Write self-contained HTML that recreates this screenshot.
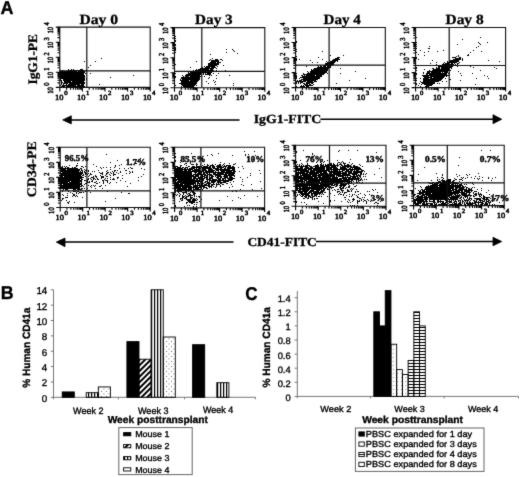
<!DOCTYPE html>
<html><head><meta charset="utf-8"><style>
html,body{margin:0;padding:0;background:#fff;}
svg{display:block;filter:grayscale(1);text-rendering:geometricPrecision;}
.S{font-family:"Liberation Serif", serif;}
.A{font-family:"Liberation Sans", sans-serif;}
text{fill:#000;stroke:#000;stroke-width:0.3px;}
.A{stroke-width:0.34px;}
.T{stroke-width:0.45px;}
.U{stroke-width:0.5px;}
</style></head><body>
<svg width="520" height="477" viewBox="0 0 520 477">
<filter id="bl" color-interpolation-filters="sRGB" filterUnits="userSpaceOnUse" x="0" y="0" width="520" height="477"><feConvolveMatrix order="3" kernelMatrix="0.015 0.075 0.015 0.075 0.64 0.075 0.015 0.075 0.015" edgeMode="duplicate"/></filter>
<g filter="url(#bl)">
<rect width="520" height="477" fill="#fff"/>
<text class="A" font-size="18.5" font-weight="bold" transform="translate(0.52 14.33) scale(0.973 1)">A</text>
<text class="S" font-size="14.0" font-weight="bold" transform="translate(79.38 24.15) scale(1.114 1)">Day 0</text>
<text class="S" font-size="14.0" font-weight="bold" transform="translate(195.08 24.15) scale(1.086 1)">Day 3</text>
<text class="S" font-size="14.0" font-weight="bold" transform="translate(323.49 24.15) scale(1.081 1)">Day 4</text>
<text class="S" font-size="14.0" font-weight="bold" transform="translate(445.48 23.75) scale(1.103 1)">Day 8</text>
<path d="M101 58h1v1h-1zM84 61h1v1h-1zM95 61h1v1h-1zM90 65h1v1h-1zM88 67h1v1h-1zM68 69h1v1h-1zM71 69h1v1h-1zM73 69h1v1h-1zM80 69h3v1h-3zM60 70h1v1h-1zM62 70h1v1h-1zM68 70h16v1h-16zM85 70h1v1h-1zM60 71h17v1h-17zM78 71h7v1h-7zM59 72h26v1h-26zM59 73h25v1h-25zM85 73h1v1h-1zM90 73h1v1h-1zM60 74h24v1h-24zM60 75h25v1h-25zM133 75h1v1h-1zM60 76h25v1h-25zM60 77h25v1h-25zM110 77h1v1h-1zM60 78h25v1h-25zM86 78h1v1h-1zM60 79h1v1h-1zM63 79h22v1h-22zM86 79h1v1h-1zM60 80h2v1h-2zM63 80h22v1h-22zM61 81h1v1h-1zM64 81h7v1h-7zM72 81h12v1h-12zM61 82h2v1h-2zM64 82h21v1h-21zM61 83h1v1h-1zM63 83h5v1h-5zM69 83h16v1h-16zM61 84h1v1h-1zM63 84h1v1h-1zM66 84h1v1h-1zM68 84h12v1h-12zM81 84h3v1h-3zM99 84h1v1h-1zM60 85h1v1h-1zM62 85h14v1h-14zM77 85h7v1h-7zM61 86h4v1h-4zM66 86h19v1h-19z" fill="#000"/>
<path d="M59.8 27.1H150.2V87.4H59.8Z" fill="none" stroke="#111" stroke-width="1.1"/>
<line x1="86.8" y1="27.1" x2="86.8" y2="87.4" stroke="#111" stroke-width="1.2"/>
<line x1="59.8" y1="70.8" x2="150.2" y2="70.8" stroke="#111" stroke-width="1.2"/>
<path d="M59.8 87.4v4.0M59.8 87.4h-4.0M66.6 87.4v2.3M59.8 82.9h-2.3M70.6 87.4v2.3M59.8 80.2h-2.3M73.4 87.4v2.3M59.8 78.3h-2.3M75.6 87.4v2.3M59.8 76.9h-2.3M77.4 87.4v2.3M59.8 75.7h-2.3M78.9 87.4v2.3M59.8 74.7h-2.3M80.2 87.4v2.3M59.8 73.8h-2.3M81.4 87.4v2.3M59.8 73.0h-2.3M82.4 87.4v4.0M59.8 72.3h-4.0M89.2 87.4v2.3M59.8 67.8h-2.3M93.2 87.4v2.3M59.8 65.1h-2.3M96.0 87.4v2.3M59.8 63.2h-2.3M98.2 87.4v2.3M59.8 61.8h-2.3M100.0 87.4v2.3M59.8 60.6h-2.3M101.5 87.4v2.3M59.8 59.6h-2.3M102.8 87.4v2.3M59.8 58.7h-2.3M104.0 87.4v2.3M59.8 57.9h-2.3M105.0 87.4v4.0M59.8 57.2h-4.0M111.8 87.4v2.3M59.8 52.7h-2.3M115.8 87.4v2.3M59.8 50.1h-2.3M118.6 87.4v2.3M59.8 48.2h-2.3M120.8 87.4v2.3M59.8 46.7h-2.3M122.6 87.4v2.3M59.8 45.5h-2.3M124.1 87.4v2.3M59.8 44.5h-2.3M125.4 87.4v2.3M59.8 43.6h-2.3M126.6 87.4v2.3M59.8 42.9h-2.3M127.6 87.4v4.0M59.8 42.2h-4.0M134.4 87.4v2.3M59.8 37.6h-2.3M138.4 87.4v2.3M59.8 35.0h-2.3M141.2 87.4v2.3M59.8 33.1h-2.3M143.4 87.4v2.3M59.8 31.6h-2.3M145.2 87.4v2.3M59.8 30.4h-2.3M146.7 87.4v2.3M59.8 29.4h-2.3M148.0 87.4v2.3M59.8 28.6h-2.3M149.2 87.4v2.3M59.8 27.8h-2.3M150.2 87.4v4M59.8 27.1h-4" stroke="#000" stroke-width="1.1" fill="none"/>
<text class="S U" font-size="7.8" transform="translate(55.1 100.0) scale(1.08 1)">10<tspan dx="0.6" dy="-5.2" font-size="6.3">0</tspan></text>
<text class="S U" font-size="7.8" transform="translate(77.0 100.0) scale(1.08 1)">10<tspan dx="0.6" dy="-5.2" font-size="6.3">1</tspan></text>
<text class="S U" font-size="7.8" transform="translate(99.0 100.0) scale(1.08 1)">10<tspan dx="0.6" dy="-5.2" font-size="6.3">2</tspan></text>
<text class="S U" font-size="7.8" transform="translate(120.9 100.0) scale(1.08 1)">10<tspan dx="0.6" dy="-5.2" font-size="6.3">3</tspan></text>
<text class="S U" font-size="7.8" transform="translate(142.9 100.0) scale(1.08 1)">10<tspan dx="0.6" dy="-5.2" font-size="6.3">4</tspan></text>
<text class="S U" font-size="8" transform="translate(53.1 93.8) rotate(-90) scale(0.84 1)">10<tspan dx="1.6" dy="-4.2" font-size="7.6">0</tspan></text>
<text class="S U" font-size="8" transform="translate(53.1 78.7) rotate(-90) scale(0.84 1)">10<tspan dx="1.6" dy="-4.2" font-size="7.6">1</tspan></text>
<text class="S U" font-size="8" transform="translate(53.1 63.6) rotate(-90) scale(0.84 1)">10<tspan dx="1.6" dy="-4.2" font-size="7.6">2</tspan></text>
<text class="S U" font-size="8" transform="translate(53.1 48.6) rotate(-90) scale(0.84 1)">10<tspan dx="1.6" dy="-4.2" font-size="7.6">3</tspan></text>
<text class="S U" font-size="8" transform="translate(53.1 33.5) rotate(-90) scale(0.84 1)">10<tspan dx="1.6" dy="-4.2" font-size="7.6">4</tspan></text>
<path d="M174 35h1v1h-1zM175 36h1v1h-1zM174 37h1v1h-1zM175 38h1v1h-1zM175 40h1v1h-1zM174 41h2v1h-2zM174 42h1v1h-1zM174 44h2v1h-2zM175 45h1v1h-1zM174 46h1v1h-1zM174 47h2v1h-2zM175 48h1v1h-1zM174 49h2v1h-2zM226 49h1v1h-1zM232 49h1v1h-1zM175 50h1v1h-1zM233 50h1v1h-1zM174 51h1v1h-1zM234 51h1v1h-1zM175 52h1v1h-1zM226 52h1v1h-1zM237 53h1v1h-1zM210 54h1v1h-1zM212 58h1v1h-1zM210 59h1v1h-1zM215 59h3v1h-3zM220 59h2v1h-2zM209 60h1v1h-1zM211 60h8v1h-8zM222 60h1v1h-1zM196 61h1v1h-1zM211 61h8v1h-8zM174 62h1v1h-1zM210 62h6v1h-6zM217 62h4v1h-4zM208 63h11v1h-11zM175 64h1v1h-1zM208 64h11v1h-11zM208 65h9v1h-9zM223 65h1v1h-1zM204 66h1v1h-1zM206 66h9v1h-9zM217 66h1v1h-1zM190 67h1v1h-1zM202 67h1v1h-1zM205 67h5v1h-5zM211 67h5v1h-5zM174 68h1v1h-1zM200 68h14v1h-14zM216 68h1v1h-1zM196 69h1v1h-1zM198 69h11v1h-11zM210 69h3v1h-3zM193 70h1v1h-1zM195 70h19v1h-19zM216 70h1v1h-1zM225 70h1v1h-1zM175 71h1v1h-1zM189 71h1v1h-1zM191 71h21v1h-21zM216 71h1v1h-1zM174 72h1v1h-1zM188 72h1v1h-1zM190 72h22v1h-22zM175 73h1v1h-1zM188 73h14v1h-14zM203 73h1v1h-1zM205 73h1v1h-1zM207 73h4v1h-4zM213 73h1v1h-1zM218 73h1v1h-1zM186 74h15v1h-15zM203 74h1v1h-1zM205 74h6v1h-6zM182 75h1v1h-1zM185 75h15v1h-15zM201 75h1v1h-1zM209 75h1v1h-1zM211 75h1v1h-1zM216 75h1v1h-1zM229 75h1v1h-1zM175 76h1v1h-1zM183 76h1v1h-1zM185 76h4v1h-4zM190 76h11v1h-11zM204 76h1v1h-1zM175 77h1v1h-1zM181 77h19v1h-19zM209 77h1v1h-1zM181 78h19v1h-19zM208 78h1v1h-1zM216 78h1v1h-1zM174 79h1v1h-1zM180 79h1v1h-1zM182 79h18v1h-18zM180 80h9v1h-9zM190 80h9v1h-9zM213 80h1v1h-1zM174 81h1v1h-1zM181 81h17v1h-17zM206 81h1v1h-1zM215 81h1v1h-1zM181 82h16v1h-16zM214 82h1v1h-1zM174 83h1v1h-1zM179 83h18v1h-18zM208 83h1v1h-1zM233 83h1v1h-1zM174 84h1v1h-1zM181 84h15v1h-15zM215 84h1v1h-1zM175 85h1v1h-1zM182 85h13v1h-13zM196 85h1v1h-1zM233 85h1v1h-1zM181 86h1v1h-1zM183 86h11v1h-11zM182 87h1v1h-1zM184 87h11v1h-11z" fill="#000"/>
<path d="M174.5 27.6H264.8V87.8H174.5Z" fill="none" stroke="#111" stroke-width="1.1"/>
<line x1="201.8" y1="27.6" x2="201.8" y2="87.8" stroke="#111" stroke-width="1.2"/>
<line x1="174.5" y1="71.4" x2="264.8" y2="71.4" stroke="#111" stroke-width="1.2"/>
<path d="M174.5 87.8v4.0M174.5 87.8h-4.0M181.3 87.8v2.3M174.5 83.3h-2.3M185.3 87.8v2.3M174.5 80.6h-2.3M188.1 87.8v2.3M174.5 78.7h-2.3M190.3 87.8v2.3M174.5 77.3h-2.3M192.1 87.8v2.3M174.5 76.1h-2.3M193.6 87.8v2.3M174.5 75.1h-2.3M194.9 87.8v2.3M174.5 74.2h-2.3M196.0 87.8v2.3M174.5 73.4h-2.3M197.1 87.8v4.0M174.5 72.8h-4.0M203.9 87.8v2.3M174.5 68.2h-2.3M207.8 87.8v2.3M174.5 65.6h-2.3M210.7 87.8v2.3M174.5 63.7h-2.3M212.9 87.8v2.3M174.5 62.2h-2.3M214.6 87.8v2.3M174.5 61.0h-2.3M216.2 87.8v2.3M174.5 60.0h-2.3M217.5 87.8v2.3M174.5 59.2h-2.3M218.6 87.8v2.3M174.5 58.4h-2.3M219.7 87.8v4.0M174.5 57.7h-4.0M226.4 87.8v2.3M174.5 53.2h-2.3M230.4 87.8v2.3M174.5 50.5h-2.3M233.2 87.8v2.3M174.5 48.6h-2.3M235.4 87.8v2.3M174.5 47.2h-2.3M237.2 87.8v2.3M174.5 46.0h-2.3M238.7 87.8v2.3M174.5 45.0h-2.3M240.0 87.8v2.3M174.5 44.1h-2.3M241.2 87.8v2.3M174.5 43.3h-2.3M242.2 87.8v4.0M174.5 42.6h-4.0M249.0 87.8v2.3M174.5 38.1h-2.3M253.0 87.8v2.3M174.5 35.5h-2.3M255.8 87.8v2.3M174.5 33.6h-2.3M258.0 87.8v2.3M174.5 32.1h-2.3M259.8 87.8v2.3M174.5 30.9h-2.3M261.3 87.8v2.3M174.5 29.9h-2.3M262.6 87.8v2.3M174.5 29.1h-2.3M263.8 87.8v2.3M174.5 28.3h-2.3M264.8 87.8v4M174.5 27.6h-4" stroke="#000" stroke-width="1.1" fill="none"/>
<text class="S U" font-size="7.8" transform="translate(169.8 100.4) scale(1.08 1)">10<tspan dx="0.6" dy="-5.2" font-size="6.3">0</tspan></text>
<text class="S U" font-size="7.8" transform="translate(191.8 100.4) scale(1.08 1)">10<tspan dx="0.6" dy="-5.2" font-size="6.3">1</tspan></text>
<text class="S U" font-size="7.8" transform="translate(213.7 100.4) scale(1.08 1)">10<tspan dx="0.6" dy="-5.2" font-size="6.3">2</tspan></text>
<text class="S U" font-size="7.8" transform="translate(235.7 100.4) scale(1.08 1)">10<tspan dx="0.6" dy="-5.2" font-size="6.3">3</tspan></text>
<text class="S U" font-size="7.8" transform="translate(257.6 100.4) scale(1.08 1)">10<tspan dx="0.6" dy="-5.2" font-size="6.3">4</tspan></text>
<text class="S U" font-size="8" transform="translate(167.8 94.2) rotate(-90) scale(0.84 1)">10<tspan dx="1.6" dy="-4.2" font-size="7.6">0</tspan></text>
<text class="S U" font-size="8" transform="translate(167.8 79.2) rotate(-90) scale(0.84 1)">10<tspan dx="1.6" dy="-4.2" font-size="7.6">1</tspan></text>
<text class="S U" font-size="8" transform="translate(167.8 64.1) rotate(-90) scale(0.84 1)">10<tspan dx="1.6" dy="-4.2" font-size="7.6">2</tspan></text>
<text class="S U" font-size="8" transform="translate(167.8 49.0) rotate(-90) scale(0.84 1)">10<tspan dx="1.6" dy="-4.2" font-size="7.6">3</tspan></text>
<text class="S U" font-size="8" transform="translate(167.8 34.0) rotate(-90) scale(0.84 1)">10<tspan dx="1.6" dy="-4.2" font-size="7.6">4</tspan></text>
<path d="M296 41h1v1h-1zM296 42h1v1h-1zM296 49h1v1h-1zM296 51h1v1h-1zM322 51h1v1h-1zM330 55h1v1h-1zM343 55h1v1h-1zM296 56h1v1h-1zM318 57h1v1h-1zM337 57h3v1h-3zM296 58h1v1h-1zM335 58h4v1h-4zM296 59h1v1h-1zM299 59h1v1h-1zM322 59h1v1h-1zM333 59h7v1h-7zM296 60h1v1h-1zM310 60h1v1h-1zM329 60h1v1h-1zM332 60h6v1h-6zM326 61h1v1h-1zM330 61h6v1h-6zM337 61h1v1h-1zM312 62h1v1h-1zM317 62h1v1h-1zM327 62h8v1h-8zM325 63h9v1h-9zM325 64h9v1h-9zM296 65h1v1h-1zM317 65h1v1h-1zM320 65h1v1h-1zM323 65h9v1h-9zM306 66h1v1h-1zM318 66h1v1h-1zM320 66h2v1h-2zM323 66h3v1h-3zM327 66h4v1h-4zM317 67h14v1h-14zM314 68h15v1h-15zM340 68h1v1h-1zM311 69h1v1h-1zM313 69h15v1h-15zM311 70h17v1h-17zM307 71h1v1h-1zM310 71h17v1h-17zM355 71h1v1h-1zM308 72h1v1h-1zM310 72h17v1h-17zM296 73h1v1h-1zM303 73h1v1h-1zM307 73h18v1h-18zM327 73h1v1h-1zM340 73h1v1h-1zM303 74h21v1h-21zM296 75h1v1h-1zM301 75h2v1h-2zM304 75h1v1h-1zM306 75h9v1h-9zM316 75h6v1h-6zM296 76h1v1h-1zM302 76h20v1h-20zM296 77h1v1h-1zM300 77h20v1h-20zM296 78h1v1h-1zM299 78h1v1h-1zM303 78h17v1h-17zM365 78h1v1h-1zM301 79h17v1h-17zM297 80h1v1h-1zM299 80h3v1h-3zM303 80h13v1h-13zM349 80h1v1h-1zM296 81h10v1h-10zM307 81h6v1h-6zM314 81h3v1h-3zM296 82h1v1h-1zM298 82h1v1h-1zM300 82h3v1h-3zM306 82h8v1h-8zM296 83h1v1h-1zM298 83h1v1h-1zM300 83h1v1h-1zM303 83h2v1h-2zM306 83h4v1h-4zM311 83h2v1h-2zM336 83h1v1h-1zM304 84h4v1h-4zM309 84h2v1h-2zM313 84h1v1h-1zM301 85h1v1h-1zM303 85h1v1h-1zM305 85h8v1h-8zM296 86h1v1h-1zM300 86h5v1h-5zM306 86h3v1h-3zM296 87h1v1h-1zM301 87h1v1h-1zM306 87h1v1h-1z" fill="#000"/>
<path d="M295.6 27.5H385.3V87.6H295.6Z" fill="none" stroke="#111" stroke-width="1.1"/>
<line x1="329.1" y1="27.5" x2="329.1" y2="87.6" stroke="#111" stroke-width="1.2"/>
<line x1="295.6" y1="65.2" x2="385.3" y2="65.2" stroke="#111" stroke-width="1.2"/>
<path d="M295.6 87.6v4.0M295.6 87.6h-4.0M302.4 87.6v2.3M295.6 83.1h-2.3M306.3 87.6v2.3M295.6 80.4h-2.3M309.1 87.6v2.3M295.6 78.6h-2.3M311.3 87.6v2.3M295.6 77.1h-2.3M313.1 87.6v2.3M295.6 75.9h-2.3M314.6 87.6v2.3M295.6 74.9h-2.3M315.9 87.6v2.3M295.6 74.0h-2.3M317.0 87.6v2.3M295.6 73.3h-2.3M318.0 87.6v4.0M295.6 72.6h-4.0M324.8 87.6v2.3M295.6 68.1h-2.3M328.7 87.6v2.3M295.6 65.4h-2.3M331.5 87.6v2.3M295.6 63.5h-2.3M333.7 87.6v2.3M295.6 62.1h-2.3M335.5 87.6v2.3M295.6 60.9h-2.3M337.0 87.6v2.3M295.6 59.9h-2.3M338.3 87.6v2.3M295.6 59.0h-2.3M339.4 87.6v2.3M295.6 58.2h-2.3M340.5 87.6v4.0M295.6 57.5h-4.0M347.2 87.6v2.3M295.6 53.0h-2.3M351.1 87.6v2.3M295.6 50.4h-2.3M354.0 87.6v2.3M295.6 48.5h-2.3M356.1 87.6v2.3M295.6 47.0h-2.3M357.9 87.6v2.3M295.6 45.9h-2.3M359.4 87.6v2.3M295.6 44.9h-2.3M360.7 87.6v2.3M295.6 44.0h-2.3M361.8 87.6v2.3M295.6 43.2h-2.3M362.9 87.6v4.0M295.6 42.5h-4.0M369.6 87.6v2.3M295.6 38.0h-2.3M373.6 87.6v2.3M295.6 35.4h-2.3M376.4 87.6v2.3M295.6 33.5h-2.3M378.5 87.6v2.3M295.6 32.0h-2.3M380.3 87.6v2.3M295.6 30.8h-2.3M381.8 87.6v2.3M295.6 29.8h-2.3M383.1 87.6v2.3M295.6 29.0h-2.3M384.3 87.6v2.3M295.6 28.2h-2.3M385.3 87.6v4M295.6 27.5h-4" stroke="#000" stroke-width="1.1" fill="none"/>
<text class="S U" font-size="7.8" transform="translate(290.9 100.2) scale(1.08 1)">10<tspan dx="0.6" dy="-5.2" font-size="6.3">0</tspan></text>
<text class="S U" font-size="7.8" transform="translate(312.9 100.2) scale(1.08 1)">10<tspan dx="0.6" dy="-5.2" font-size="6.3">1</tspan></text>
<text class="S U" font-size="7.8" transform="translate(334.8 100.2) scale(1.08 1)">10<tspan dx="0.6" dy="-5.2" font-size="6.3">2</tspan></text>
<text class="S U" font-size="7.8" transform="translate(356.8 100.2) scale(1.08 1)">10<tspan dx="0.6" dy="-5.2" font-size="6.3">3</tspan></text>
<text class="S U" font-size="7.8" transform="translate(378.7 100.2) scale(1.08 1)">10<tspan dx="0.6" dy="-5.2" font-size="6.3">4</tspan></text>
<text class="S U" font-size="8" transform="translate(288.9 94.0) rotate(-90) scale(0.84 1)">10<tspan dx="1.6" dy="-4.2" font-size="7.6">0</tspan></text>
<text class="S U" font-size="8" transform="translate(288.9 79.0) rotate(-90) scale(0.84 1)">10<tspan dx="1.6" dy="-4.2" font-size="7.6">1</tspan></text>
<text class="S U" font-size="8" transform="translate(288.9 63.9) rotate(-90) scale(0.84 1)">10<tspan dx="1.6" dy="-4.2" font-size="7.6">2</tspan></text>
<text class="S U" font-size="8" transform="translate(288.9 48.9) rotate(-90) scale(0.84 1)">10<tspan dx="1.6" dy="-4.2" font-size="7.6">3</tspan></text>
<text class="S U" font-size="8" transform="translate(288.9 33.9) rotate(-90) scale(0.84 1)">10<tspan dx="1.6" dy="-4.2" font-size="7.6">4</tspan></text>
<path d="M416 37h1v1h-1zM480 37h1v1h-1zM462 39h1v1h-1zM416 42h1v1h-1zM478 42h1v1h-1zM487 42h1v1h-1zM479 43h1v1h-1zM416 44h1v1h-1zM457 44h1v1h-1zM480 44h1v1h-1zM416 46h1v1h-1zM429 46h1v1h-1zM478 46h1v1h-1zM476 47h1v1h-1zM416 48h1v1h-1zM428 48h2v1h-2zM420 50h1v1h-1zM443 50h1v1h-1zM473 50h1v1h-1zM428 51h1v1h-1zM437 51h1v1h-1zM481 51h1v1h-1zM416 52h1v1h-1zM424 52h1v1h-1zM470 52h1v1h-1zM418 54h1v1h-1zM468 54h1v1h-1zM424 55h1v1h-1zM458 55h1v1h-1zM467 55h2v1h-2zM456 56h1v1h-1zM458 56h1v1h-1zM416 57h1v1h-1zM452 57h4v1h-4zM459 57h2v1h-2zM416 58h1v1h-1zM455 58h6v1h-6zM462 58h1v1h-1zM418 59h1v1h-1zM453 59h8v1h-8zM462 59h1v1h-1zM432 60h1v1h-1zM450 60h9v1h-9zM462 60h1v1h-1zM488 60h1v1h-1zM447 61h1v1h-1zM449 61h10v1h-10zM499 61h1v1h-1zM436 62h1v1h-1zM444 62h1v1h-1zM447 62h10v1h-10zM459 62h1v1h-1zM430 63h1v1h-1zM443 63h1v1h-1zM445 63h5v1h-5zM451 63h2v1h-2zM454 63h1v1h-1zM457 63h2v1h-2zM436 64h1v1h-1zM442 64h12v1h-12zM455 64h1v1h-1zM457 64h1v1h-1zM416 65h1v1h-1zM442 65h11v1h-11zM438 66h15v1h-15zM457 66h1v1h-1zM470 66h1v1h-1zM416 67h1v1h-1zM436 67h1v1h-1zM438 67h2v1h-2zM441 67h11v1h-11zM473 67h1v1h-1zM494 67h1v1h-1zM416 68h1v1h-1zM432 68h2v1h-2zM436 68h4v1h-4zM441 68h9v1h-9zM451 68h1v1h-1zM496 68h1v1h-1zM424 69h1v1h-1zM433 69h17v1h-17zM416 70h1v1h-1zM429 70h1v1h-1zM432 70h19v1h-19zM480 70h1v1h-1zM427 71h21v1h-21zM458 71h1v1h-1zM423 72h1v1h-1zM427 72h3v1h-3zM431 72h10v1h-10zM442 72h1v1h-1zM444 72h4v1h-4zM449 72h1v1h-1zM416 73h1v1h-1zM423 73h1v1h-1zM426 73h21v1h-21zM448 73h1v1h-1zM460 73h1v1h-1zM472 73h1v1h-1zM416 74h1v1h-1zM426 74h2v1h-2zM429 74h18v1h-18zM449 74h1v1h-1zM422 75h27v1h-27zM461 75h1v1h-1zM484 75h1v1h-1zM415 76h1v1h-1zM423 76h6v1h-6zM430 76h15v1h-15zM446 76h1v1h-1zM487 76h1v1h-1zM424 77h8v1h-8zM433 77h11v1h-11zM416 78h1v1h-1zM420 78h1v1h-1zM423 78h6v1h-6zM430 78h13v1h-13zM445 78h1v1h-1zM476 78h1v1h-1zM488 78h1v1h-1zM423 79h19v1h-19zM449 79h2v1h-2zM416 80h1v1h-1zM423 80h18v1h-18zM460 80h1v1h-1zM420 81h1v1h-1zM423 81h16v1h-16zM442 81h1v1h-1zM446 81h1v1h-1zM421 82h14v1h-14zM416 83h1v1h-1zM419 83h1v1h-1zM422 83h13v1h-13zM437 83h1v1h-1zM439 83h1v1h-1zM416 84h1v1h-1zM421 84h1v1h-1zM424 84h9v1h-9zM475 84h1v1h-1zM418 85h1v1h-1zM426 85h6v1h-6zM420 86h1v1h-1zM425 86h4v1h-4zM416 87h1v1h-1zM425 87h1v1h-1zM429 87h1v1h-1zM454 87h1v1h-1z" fill="#000"/>
<path d="M415.6 27.5H505.6V87.6H415.6Z" fill="none" stroke="#111" stroke-width="1.1"/>
<line x1="449.2" y1="27.5" x2="449.2" y2="87.6" stroke="#111" stroke-width="1.2"/>
<line x1="415.6" y1="65.5" x2="505.6" y2="65.5" stroke="#111" stroke-width="1.2"/>
<path d="M415.6 87.6v4.0M415.6 87.6h-4.0M422.4 87.6v2.3M415.6 83.1h-2.3M426.3 87.6v2.3M415.6 80.4h-2.3M429.1 87.6v2.3M415.6 78.6h-2.3M431.3 87.6v2.3M415.6 77.1h-2.3M433.1 87.6v2.3M415.6 75.9h-2.3M434.6 87.6v2.3M415.6 74.9h-2.3M435.9 87.6v2.3M415.6 74.0h-2.3M437.1 87.6v2.3M415.6 73.3h-2.3M438.1 87.6v4.0M415.6 72.6h-4.0M444.9 87.6v2.3M415.6 68.1h-2.3M448.8 87.6v2.3M415.6 65.4h-2.3M451.6 87.6v2.3M415.6 63.5h-2.3M453.8 87.6v2.3M415.6 62.1h-2.3M455.6 87.6v2.3M415.6 60.9h-2.3M457.1 87.6v2.3M415.6 59.9h-2.3M458.4 87.6v2.3M415.6 59.0h-2.3M459.6 87.6v2.3M415.6 58.2h-2.3M460.6 87.6v4.0M415.6 57.5h-4.0M467.4 87.6v2.3M415.6 53.0h-2.3M471.3 87.6v2.3M415.6 50.4h-2.3M474.1 87.6v2.3M415.6 48.5h-2.3M476.3 87.6v2.3M415.6 47.0h-2.3M478.1 87.6v2.3M415.6 45.9h-2.3M479.6 87.6v2.3M415.6 44.9h-2.3M480.9 87.6v2.3M415.6 44.0h-2.3M482.1 87.6v2.3M415.6 43.2h-2.3M483.1 87.6v4.0M415.6 42.5h-4.0M489.9 87.6v2.3M415.6 38.0h-2.3M493.8 87.6v2.3M415.6 35.4h-2.3M496.6 87.6v2.3M415.6 33.5h-2.3M498.8 87.6v2.3M415.6 32.0h-2.3M500.6 87.6v2.3M415.6 30.8h-2.3M502.1 87.6v2.3M415.6 29.8h-2.3M503.4 87.6v2.3M415.6 29.0h-2.3M504.6 87.6v2.3M415.6 28.2h-2.3M505.6 87.6v4M415.6 27.5h-4" stroke="#000" stroke-width="1.1" fill="none"/>
<text class="S U" font-size="7.8" transform="translate(410.9 100.2) scale(1.08 1)">10<tspan dx="0.6" dy="-5.2" font-size="6.3">0</tspan></text>
<text class="S U" font-size="7.8" transform="translate(432.9 100.2) scale(1.08 1)">10<tspan dx="0.6" dy="-5.2" font-size="6.3">1</tspan></text>
<text class="S U" font-size="7.8" transform="translate(454.8 100.2) scale(1.08 1)">10<tspan dx="0.6" dy="-5.2" font-size="6.3">2</tspan></text>
<text class="S U" font-size="7.8" transform="translate(476.8 100.2) scale(1.08 1)">10<tspan dx="0.6" dy="-5.2" font-size="6.3">3</tspan></text>
<text class="S U" font-size="7.8" transform="translate(498.7 100.2) scale(1.08 1)">10<tspan dx="0.6" dy="-5.2" font-size="6.3">4</tspan></text>
<text class="S U" font-size="8" transform="translate(408.9 94.0) rotate(-90) scale(0.84 1)">10<tspan dx="1.6" dy="-4.2" font-size="7.6">0</tspan></text>
<text class="S U" font-size="8" transform="translate(408.9 79.0) rotate(-90) scale(0.84 1)">10<tspan dx="1.6" dy="-4.2" font-size="7.6">1</tspan></text>
<text class="S U" font-size="8" transform="translate(408.9 63.9) rotate(-90) scale(0.84 1)">10<tspan dx="1.6" dy="-4.2" font-size="7.6">2</tspan></text>
<text class="S U" font-size="8" transform="translate(408.9 48.9) rotate(-90) scale(0.84 1)">10<tspan dx="1.6" dy="-4.2" font-size="7.6">3</tspan></text>
<text class="S U" font-size="8" transform="translate(408.9 33.9) rotate(-90) scale(0.84 1)">10<tspan dx="1.6" dy="-4.2" font-size="7.6">4</tspan></text>
<path d="M71.3 115.8L62.7 119.9L71.3 123.9Z M493 114.7L501.7 119.2L493 123.7Z" fill="#000" stroke="#000" stroke-width="0.8"/>
<path d="M70 119.9H239.6 M320.4 119.3H494" stroke="#000" stroke-width="1.5"/>
<text class="S" font-size="12.4" font-weight="bold" transform="translate(253.70 123.25) scale(1.115 1)">IgG1-FITC</text>
<text class="S" font-size="13.0" font-weight="bold" transform="translate(36.65 84.48) rotate(-90) scale(1.025 1)">IgG1-PE</text>
<path d="M86 154h1v1h-1zM106 154h1v1h-1zM84 158h2v1h-2zM140 158h1v1h-1zM117 160h1v1h-1zM137 161h1v1h-1zM110 162h1v1h-1zM77 163h1v1h-1zM135 163h2v1h-2zM93 164h1v1h-1zM121 164h1v1h-1zM130 164h1v1h-1zM69 165h1v1h-1zM76 165h2v1h-2zM115 165h1v1h-1zM119 165h1v1h-1zM60 166h1v1h-1zM62 166h1v1h-1zM64 166h1v1h-1zM66 166h1v1h-1zM76 166h1v1h-1zM81 166h2v1h-2zM85 166h1v1h-1zM96 166h1v1h-1zM115 166h1v1h-1zM60 167h3v1h-3zM65 167h1v1h-1zM67 167h2v1h-2zM72 167h1v1h-1zM74 167h2v1h-2zM83 167h1v1h-1zM100 167h1v1h-1zM103 167h1v1h-1zM106 167h1v1h-1zM110 167h1v1h-1zM114 167h1v1h-1zM130 167h1v1h-1zM59 168h19v1h-19zM80 168h2v1h-2zM101 168h1v1h-1zM119 168h1v1h-1zM124 168h1v1h-1zM128 168h1v1h-1zM131 168h2v1h-2zM141 168h1v1h-1zM60 169h6v1h-6zM67 169h13v1h-13zM81 169h1v1h-1zM84 169h1v1h-1zM86 169h1v1h-1zM110 169h1v1h-1zM144 169h1v1h-1zM60 170h20v1h-20zM81 170h2v1h-2zM85 170h2v1h-2zM88 170h1v1h-1zM98 170h1v1h-1zM107 170h1v1h-1zM114 170h2v1h-2zM117 170h1v1h-1zM125 170h2v1h-2zM60 171h19v1h-19zM80 171h1v1h-1zM82 171h1v1h-1zM84 171h1v1h-1zM86 171h1v1h-1zM88 171h1v1h-1zM92 171h1v1h-1zM94 171h1v1h-1zM106 171h1v1h-1zM112 171h1v1h-1zM114 171h1v1h-1zM120 171h1v1h-1zM129 171h1v1h-1zM132 171h1v1h-1zM60 172h1v1h-1zM62 172h21v1h-21zM84 172h2v1h-2zM99 172h1v1h-1zM102 172h1v1h-1zM107 172h2v1h-2zM110 172h1v1h-1zM113 172h1v1h-1zM116 172h1v1h-1zM120 172h1v1h-1zM130 172h1v1h-1zM132 172h1v1h-1zM60 173h23v1h-23zM85 173h2v1h-2zM88 173h1v1h-1zM90 173h1v1h-1zM100 173h3v1h-3zM106 173h2v1h-2zM111 173h1v1h-1zM113 173h1v1h-1zM118 173h1v1h-1zM126 173h1v1h-1zM129 173h1v1h-1zM60 174h22v1h-22zM83 174h1v1h-1zM85 174h1v1h-1zM87 174h1v1h-1zM90 174h2v1h-2zM102 174h1v1h-1zM106 174h1v1h-1zM109 174h1v1h-1zM113 174h3v1h-3zM143 174h1v1h-1zM59 175h22v1h-22zM82 175h2v1h-2zM89 175h1v1h-1zM95 175h1v1h-1zM100 175h1v1h-1zM105 175h1v1h-1zM110 175h1v1h-1zM113 175h1v1h-1zM122 175h1v1h-1zM60 176h3v1h-3zM64 176h18v1h-18zM85 176h1v1h-1zM88 176h1v1h-1zM93 176h1v1h-1zM95 176h2v1h-2zM101 176h3v1h-3zM106 176h2v1h-2zM141 176h1v1h-1zM60 177h24v1h-24zM91 177h3v1h-3zM96 177h1v1h-1zM101 177h3v1h-3zM110 177h1v1h-1zM117 177h2v1h-2zM138 177h1v1h-1zM60 178h22v1h-22zM88 178h1v1h-1zM90 178h1v1h-1zM93 178h2v1h-2zM97 178h1v1h-1zM101 178h1v1h-1zM105 178h1v1h-1zM107 178h1v1h-1zM113 178h1v1h-1zM117 178h1v1h-1zM122 178h1v1h-1zM59 179h21v1h-21zM81 179h2v1h-2zM87 179h2v1h-2zM91 179h1v1h-1zM93 179h1v1h-1zM95 179h1v1h-1zM97 179h2v1h-2zM104 179h1v1h-1zM110 179h1v1h-1zM112 179h3v1h-3zM60 180h22v1h-22zM84 180h2v1h-2zM87 180h1v1h-1zM92 180h1v1h-1zM102 180h2v1h-2zM105 180h3v1h-3zM120 180h1v1h-1zM138 180h1v1h-1zM60 181h10v1h-10zM71 181h11v1h-11zM86 181h2v1h-2zM89 181h1v1h-1zM91 181h2v1h-2zM96 181h1v1h-1zM103 181h1v1h-1zM107 181h1v1h-1zM125 181h1v1h-1zM60 182h8v1h-8zM69 182h11v1h-11zM81 182h1v1h-1zM87 182h3v1h-3zM94 182h2v1h-2zM99 182h1v1h-1zM103 182h1v1h-1zM107 182h1v1h-1zM110 182h1v1h-1zM116 182h1v1h-1zM60 183h22v1h-22zM85 183h2v1h-2zM96 183h2v1h-2zM103 183h1v1h-1zM109 183h1v1h-1zM130 183h1v1h-1zM60 184h2v1h-2zM63 184h19v1h-19zM84 184h1v1h-1zM59 185h21v1h-21zM81 185h2v1h-2zM88 185h1v1h-1zM91 185h1v1h-1zM93 185h1v1h-1zM95 185h1v1h-1zM101 185h1v1h-1zM105 185h1v1h-1zM60 186h22v1h-22zM83 186h1v1h-1zM90 186h1v1h-1zM94 186h1v1h-1zM99 186h2v1h-2zM127 186h1v1h-1zM59 187h21v1h-21zM91 187h1v1h-1zM59 188h21v1h-21zM81 188h2v1h-2zM84 188h1v1h-1zM87 188h1v1h-1zM95 188h1v1h-1zM102 188h1v1h-1zM63 189h1v1h-1zM65 189h3v1h-3zM73 189h3v1h-3zM77 189h5v1h-5zM60 190h1v1h-1zM62 190h1v1h-1zM68 190h1v1h-1zM73 190h1v1h-1zM76 190h1v1h-1zM82 190h1v1h-1zM88 190h2v1h-2zM62 191h1v1h-1zM68 191h1v1h-1zM73 191h3v1h-3zM77 191h2v1h-2zM85 191h1v1h-1zM107 191h1v1h-1zM70 192h1v1h-1zM76 192h1v1h-1zM79 192h3v1h-3zM83 192h1v1h-1zM90 192h1v1h-1zM121 192h1v1h-1zM67 193h1v1h-1zM72 193h1v1h-1zM76 193h1v1h-1zM78 193h1v1h-1zM128 193h2v1h-2zM62 194h1v1h-1zM73 194h2v1h-2zM63 195h1v1h-1zM67 195h1v1h-1zM73 195h2v1h-2zM76 195h1v1h-1zM72 196h1v1h-1zM75 196h1v1h-1zM77 196h1v1h-1zM65 197h3v1h-3zM82 197h1v1h-1zM62 198h2v1h-2zM115 198h1v1h-1zM62 199h1v1h-1zM61 200h1v1h-1zM66 200h1v1h-1zM69 201h1v1h-1zM105 201h1v1h-1zM67 202h2v1h-2zM74 202h1v1h-1zM68 203h1v1h-1z" fill="#000"/>
<path d="M60.2 147.3H150.2V207.5H60.2Z" fill="none" stroke="#111" stroke-width="1.1"/>
<line x1="86.9" y1="147.3" x2="86.9" y2="207.5" stroke="#111" stroke-width="1.2"/>
<line x1="60.2" y1="190.9" x2="150.2" y2="190.9" stroke="#111" stroke-width="1.2"/>
<path d="M60.2 207.5v4.0M60.2 207.5h-4.0M67.0 207.5v2.3M60.2 203.0h-2.3M70.9 207.5v2.3M60.2 200.3h-2.3M73.7 207.5v2.3M60.2 198.4h-2.3M75.9 207.5v2.3M60.2 197.0h-2.3M77.7 207.5v2.3M60.2 195.8h-2.3M79.2 207.5v2.3M60.2 194.8h-2.3M80.5 207.5v2.3M60.2 193.9h-2.3M81.7 207.5v2.3M60.2 193.1h-2.3M82.7 207.5v4.0M60.2 192.4h-4.0M89.5 207.5v2.3M60.2 187.9h-2.3M93.4 207.5v2.3M60.2 185.3h-2.3M96.2 207.5v2.3M60.2 183.4h-2.3M98.4 207.5v2.3M60.2 181.9h-2.3M100.2 207.5v2.3M60.2 180.7h-2.3M101.7 207.5v2.3M60.2 179.7h-2.3M103.0 207.5v2.3M60.2 178.9h-2.3M104.2 207.5v2.3M60.2 178.1h-2.3M105.2 207.5v4.0M60.2 177.4h-4.0M112.0 207.5v2.3M60.2 172.9h-2.3M115.9 207.5v2.3M60.2 170.2h-2.3M118.7 207.5v2.3M60.2 168.3h-2.3M120.9 207.5v2.3M60.2 166.9h-2.3M122.7 207.5v2.3M60.2 165.7h-2.3M124.2 207.5v2.3M60.2 164.7h-2.3M125.5 207.5v2.3M60.2 163.8h-2.3M126.7 207.5v2.3M60.2 163.0h-2.3M127.7 207.5v4.0M60.2 162.4h-4.0M134.5 207.5v2.3M60.2 157.8h-2.3M138.4 207.5v2.3M60.2 155.2h-2.3M141.2 207.5v2.3M60.2 153.3h-2.3M143.4 207.5v2.3M60.2 151.8h-2.3M145.2 207.5v2.3M60.2 150.6h-2.3M146.7 207.5v2.3M60.2 149.6h-2.3M148.0 207.5v2.3M60.2 148.8h-2.3M149.2 207.5v2.3M60.2 148.0h-2.3M150.2 207.5v4M60.2 147.3h-4" stroke="#000" stroke-width="1.1" fill="none"/>
<text class="S U" font-size="7.8" transform="translate(55.5 220.1) scale(1.08 1)">10<tspan dx="0.6" dy="-5.2" font-size="6.3">0</tspan></text>
<text class="S U" font-size="7.8" transform="translate(77.5 220.1) scale(1.08 1)">10<tspan dx="0.6" dy="-5.2" font-size="6.3">1</tspan></text>
<text class="S U" font-size="7.8" transform="translate(99.4 220.1) scale(1.08 1)">10<tspan dx="0.6" dy="-5.2" font-size="6.3">2</tspan></text>
<text class="S U" font-size="7.8" transform="translate(121.3 220.1) scale(1.08 1)">10<tspan dx="0.6" dy="-5.2" font-size="6.3">3</tspan></text>
<text class="S U" font-size="7.8" transform="translate(143.3 220.1) scale(1.08 1)">10<tspan dx="0.6" dy="-5.2" font-size="6.3">4</tspan></text>
<text class="S U" font-size="8" transform="translate(53.5 213.9) rotate(-90) scale(0.84 1)">10<tspan dx="1.6" dy="-4.2" font-size="7.6">0</tspan></text>
<text class="S U" font-size="8" transform="translate(53.5 198.8) rotate(-90) scale(0.84 1)">10<tspan dx="1.6" dy="-4.2" font-size="7.6">1</tspan></text>
<text class="S U" font-size="8" transform="translate(53.5 183.8) rotate(-90) scale(0.84 1)">10<tspan dx="1.6" dy="-4.2" font-size="7.6">2</tspan></text>
<text class="S U" font-size="8" transform="translate(53.5 168.8) rotate(-90) scale(0.84 1)">10<tspan dx="1.6" dy="-4.2" font-size="7.6">3</tspan></text>
<text class="S U" font-size="8" transform="translate(53.5 153.7) rotate(-90) scale(0.84 1)">10<tspan dx="1.6" dy="-4.2" font-size="7.6">4</tspan></text>
<path d="M244 151h1v1h-1zM254 151h1v1h-1zM175 153h1v1h-1zM191 153h1v1h-1zM218 153h1v1h-1zM211 154h1v1h-1zM245 154h1v1h-1zM248 154h1v1h-1zM207 155h1v1h-1zM212 155h1v1h-1zM232 155h1v1h-1zM245 155h1v1h-1zM255 155h1v1h-1zM175 156h1v1h-1zM175 157h1v1h-1zM188 157h1v1h-1zM200 157h1v1h-1zM186 158h1v1h-1zM198 158h1v1h-1zM202 158h1v1h-1zM253 159h1v1h-1zM175 160h1v1h-1zM180 160h1v1h-1zM202 160h1v1h-1zM175 161h1v1h-1zM183 161h1v1h-1zM187 161h1v1h-1zM203 161h1v1h-1zM252 161h1v1h-1zM180 162h1v1h-1zM190 162h1v1h-1zM220 162h1v1h-1zM185 163h2v1h-2zM190 163h1v1h-1zM196 163h1v1h-1zM224 163h1v1h-1zM229 163h1v1h-1zM235 163h1v1h-1zM184 164h1v1h-1zM191 164h3v1h-3zM196 164h2v1h-2zM200 164h1v1h-1zM204 164h1v1h-1zM207 164h1v1h-1zM212 164h1v1h-1zM215 164h1v1h-1zM219 164h2v1h-2zM223 164h1v1h-1zM233 164h2v1h-2zM180 165h2v1h-2zM186 165h1v1h-1zM196 165h1v1h-1zM202 165h1v1h-1zM207 165h2v1h-2zM210 165h4v1h-4zM217 165h4v1h-4zM222 165h1v1h-1zM224 165h1v1h-1zM226 165h5v1h-5zM175 166h3v1h-3zM180 166h1v1h-1zM188 166h2v1h-2zM192 166h3v1h-3zM196 166h6v1h-6zM203 166h5v1h-5zM209 166h2v1h-2zM212 166h3v1h-3zM216 166h6v1h-6zM223 166h4v1h-4zM228 166h3v1h-3zM232 166h2v1h-2zM242 166h1v1h-1zM174 167h2v1h-2zM177 167h4v1h-4zM182 167h2v1h-2zM185 167h3v1h-3zM191 167h9v1h-9zM201 167h10v1h-10zM212 167h3v1h-3zM217 167h7v1h-7zM225 167h1v1h-1zM227 167h8v1h-8zM238 167h1v1h-1zM175 168h8v1h-8zM184 168h2v1h-2zM187 168h1v1h-1zM189 168h6v1h-6zM196 168h1v1h-1zM198 168h3v1h-3zM202 168h10v1h-10zM213 168h6v1h-6zM220 168h2v1h-2zM224 168h2v1h-2zM227 168h8v1h-8zM243 168h1v1h-1zM174 169h19v1h-19zM194 169h6v1h-6zM202 169h4v1h-4zM208 169h5v1h-5zM215 169h15v1h-15zM232 169h3v1h-3zM175 170h8v1h-8zM184 170h3v1h-3zM188 170h3v1h-3zM192 170h9v1h-9zM202 170h5v1h-5zM208 170h7v1h-7zM216 170h3v1h-3zM220 170h15v1h-15zM259 170h1v1h-1zM174 171h30v1h-30zM205 171h9v1h-9zM215 171h1v1h-1zM218 171h1v1h-1zM221 171h4v1h-4zM226 171h6v1h-6zM233 171h3v1h-3zM239 171h1v1h-1zM175 172h17v1h-17zM194 172h3v1h-3zM198 172h4v1h-4zM203 172h32v1h-32zM175 173h17v1h-17zM195 173h1v1h-1zM197 173h5v1h-5zM203 173h2v1h-2zM206 173h2v1h-2zM209 173h1v1h-1zM213 173h3v1h-3zM217 173h7v1h-7zM225 173h10v1h-10zM250 173h1v1h-1zM260 173h1v1h-1zM175 174h17v1h-17zM193 174h13v1h-13zM207 174h5v1h-5zM213 174h14v1h-14zM228 174h6v1h-6zM264 174h1v1h-1zM174 175h20v1h-20zM195 175h4v1h-4zM201 175h2v1h-2zM204 175h4v1h-4zM209 175h4v1h-4zM215 175h6v1h-6zM224 175h11v1h-11zM250 175h1v1h-1zM175 176h24v1h-24zM200 176h5v1h-5zM206 176h2v1h-2zM209 176h1v1h-1zM211 176h3v1h-3zM215 176h1v1h-1zM217 176h5v1h-5zM223 176h5v1h-5zM229 176h3v1h-3zM234 176h1v1h-1zM175 177h17v1h-17zM193 177h3v1h-3zM198 177h5v1h-5zM204 177h4v1h-4zM209 177h4v1h-4zM216 177h3v1h-3zM220 177h2v1h-2zM224 177h4v1h-4zM229 177h4v1h-4zM240 177h1v1h-1zM247 177h1v1h-1zM175 178h1v1h-1zM177 178h15v1h-15zM193 178h12v1h-12zM206 178h2v1h-2zM209 178h4v1h-4zM217 178h4v1h-4zM222 178h4v1h-4zM227 178h8v1h-8zM175 179h20v1h-20zM196 179h2v1h-2zM199 179h5v1h-5zM206 179h5v1h-5zM212 179h5v1h-5zM218 179h3v1h-3zM222 179h2v1h-2zM225 179h1v1h-1zM228 179h5v1h-5zM242 179h1v1h-1zM175 180h2v1h-2zM178 180h22v1h-22zM201 180h3v1h-3zM207 180h1v1h-1zM209 180h23v1h-23zM174 181h2v1h-2zM177 181h26v1h-26zM205 181h3v1h-3zM209 181h1v1h-1zM211 181h5v1h-5zM217 181h4v1h-4zM223 181h6v1h-6zM233 181h1v1h-1zM242 181h1v1h-1zM260 181h1v1h-1zM175 182h21v1h-21zM197 182h2v1h-2zM200 182h3v1h-3zM204 182h2v1h-2zM207 182h3v1h-3zM211 182h4v1h-4zM217 182h9v1h-9zM230 182h1v1h-1zM175 183h4v1h-4zM180 183h16v1h-16zM197 183h3v1h-3zM201 183h3v1h-3zM206 183h5v1h-5zM213 183h1v1h-1zM216 183h1v1h-1zM218 183h1v1h-1zM220 183h2v1h-2zM226 183h2v1h-2zM175 184h8v1h-8zM184 184h10v1h-10zM195 184h1v1h-1zM197 184h1v1h-1zM199 184h1v1h-1zM201 184h2v1h-2zM204 184h3v1h-3zM208 184h2v1h-2zM211 184h4v1h-4zM216 184h4v1h-4zM222 184h2v1h-2zM231 184h1v1h-1zM241 184h1v1h-1zM251 184h1v1h-1zM175 185h16v1h-16zM193 185h17v1h-17zM211 185h2v1h-2zM216 185h1v1h-1zM220 185h1v1h-1zM243 185h1v1h-1zM175 186h17v1h-17zM193 186h5v1h-5zM199 186h6v1h-6zM208 186h4v1h-4zM213 186h1v1h-1zM216 186h1v1h-1zM220 186h1v1h-1zM232 186h1v1h-1zM175 187h6v1h-6zM182 187h20v1h-20zM203 187h4v1h-4zM209 187h1v1h-1zM211 187h1v1h-1zM215 187h1v1h-1zM229 187h1v1h-1zM174 188h13v1h-13zM188 188h4v1h-4zM193 188h1v1h-1zM195 188h4v1h-4zM201 188h1v1h-1zM203 188h1v1h-1zM206 188h2v1h-2zM261 188h1v1h-1zM175 189h1v1h-1zM177 189h15v1h-15zM193 189h8v1h-8zM202 189h1v1h-1zM240 189h1v1h-1zM252 189h1v1h-1zM175 190h19v1h-19zM197 190h1v1h-1zM235 190h1v1h-1zM175 191h1v1h-1zM177 191h5v1h-5zM185 191h2v1h-2zM188 191h1v1h-1zM191 191h3v1h-3zM232 191h1v1h-1zM236 191h1v1h-1zM175 192h1v1h-1zM178 192h1v1h-1zM182 192h5v1h-5zM190 192h1v1h-1zM192 192h3v1h-3zM179 193h1v1h-1zM183 193h1v1h-1zM186 193h1v1h-1zM188 193h2v1h-2zM193 193h3v1h-3zM175 194h1v1h-1zM177 194h1v1h-1zM180 194h1v1h-1zM183 194h1v1h-1zM187 194h1v1h-1zM189 194h2v1h-2zM193 194h2v1h-2zM176 195h1v1h-1zM179 195h1v1h-1zM182 195h1v1h-1zM185 195h1v1h-1zM188 195h5v1h-5zM194 195h1v1h-1zM244 195h1v1h-1zM179 196h1v1h-1zM182 196h3v1h-3zM186 196h3v1h-3zM190 196h1v1h-1zM194 196h1v1h-1zM196 196h1v1h-1zM198 196h2v1h-2zM227 196h1v1h-1zM257 196h1v1h-1zM182 197h2v1h-2zM185 197h2v1h-2zM190 197h3v1h-3zM199 197h1v1h-1zM238 197h1v1h-1zM180 198h3v1h-3zM184 198h3v1h-3zM190 198h2v1h-2zM193 198h2v1h-2zM196 198h1v1h-1zM240 198h1v1h-1zM180 199h1v1h-1zM182 199h1v1h-1zM186 199h5v1h-5zM192 199h4v1h-4zM197 199h1v1h-1zM201 199h1v1h-1zM181 200h2v1h-2zM187 200h4v1h-4zM192 200h5v1h-5zM219 200h1v1h-1zM232 200h1v1h-1zM179 201h1v1h-1zM188 201h7v1h-7zM199 201h1v1h-1zM186 202h2v1h-2zM189 202h6v1h-6zM196 202h2v1h-2zM186 203h1v1h-1zM191 203h2v1h-2zM194 204h1v1h-1zM196 204h1v1h-1zM175 205h1v1h-1zM187 205h1v1h-1zM189 205h1v1h-1zM175 206h1v1h-1zM184 206h1v1h-1zM193 206h1v1h-1zM196 206h1v1h-1zM193 207h1v1h-1z" fill="#000"/>
<path d="M174.6 147.2H264.6V207.9H174.6Z" fill="none" stroke="#111" stroke-width="1.1"/>
<line x1="200.9" y1="147.2" x2="200.9" y2="207.9" stroke="#111" stroke-width="1.2"/>
<line x1="174.6" y1="190.8" x2="264.6" y2="190.8" stroke="#111" stroke-width="1.2"/>
<path d="M174.6 207.9v4.0M174.6 207.9h-4.0M181.4 207.9v2.3M174.6 203.3h-2.3M185.3 207.9v2.3M174.6 200.7h-2.3M188.1 207.9v2.3M174.6 198.8h-2.3M190.3 207.9v2.3M174.6 197.3h-2.3M192.1 207.9v2.3M174.6 196.1h-2.3M193.6 207.9v2.3M174.6 195.1h-2.3M194.9 207.9v2.3M174.6 194.2h-2.3M196.1 207.9v2.3M174.6 193.4h-2.3M197.1 207.9v4.0M174.6 192.7h-4.0M203.9 207.9v2.3M174.6 188.2h-2.3M207.8 207.9v2.3M174.6 185.5h-2.3M210.6 207.9v2.3M174.6 183.6h-2.3M212.8 207.9v2.3M174.6 182.1h-2.3M214.6 207.9v2.3M174.6 180.9h-2.3M216.1 207.9v2.3M174.6 179.9h-2.3M217.4 207.9v2.3M174.6 179.0h-2.3M218.6 207.9v2.3M174.6 178.2h-2.3M219.6 207.9v4.0M174.6 177.6h-4.0M226.4 207.9v2.3M174.6 173.0h-2.3M230.3 207.9v2.3M174.6 170.3h-2.3M233.1 207.9v2.3M174.6 168.4h-2.3M235.3 207.9v2.3M174.6 166.9h-2.3M237.1 207.9v2.3M174.6 165.7h-2.3M238.6 207.9v2.3M174.6 164.7h-2.3M239.9 207.9v2.3M174.6 163.8h-2.3M241.1 207.9v2.3M174.6 163.1h-2.3M242.1 207.9v4.0M174.6 162.4h-4.0M248.9 207.9v2.3M174.6 157.8h-2.3M252.8 207.9v2.3M174.6 155.1h-2.3M255.6 207.9v2.3M174.6 153.2h-2.3M257.8 207.9v2.3M174.6 151.8h-2.3M259.6 207.9v2.3M174.6 150.6h-2.3M261.1 207.9v2.3M174.6 149.6h-2.3M262.4 207.9v2.3M174.6 148.7h-2.3M263.6 207.9v2.3M174.6 147.9h-2.3M264.6 207.9v4M174.6 147.2h-4" stroke="#000" stroke-width="1.1" fill="none"/>
<text class="S U" font-size="7.8" transform="translate(169.9 220.5) scale(1.08 1)">10<tspan dx="0.6" dy="-5.2" font-size="6.3">0</tspan></text>
<text class="S U" font-size="7.8" transform="translate(191.8 220.5) scale(1.08 1)">10<tspan dx="0.6" dy="-5.2" font-size="6.3">1</tspan></text>
<text class="S U" font-size="7.8" transform="translate(213.8 220.5) scale(1.08 1)">10<tspan dx="0.6" dy="-5.2" font-size="6.3">2</tspan></text>
<text class="S U" font-size="7.8" transform="translate(235.8 220.5) scale(1.08 1)">10<tspan dx="0.6" dy="-5.2" font-size="6.3">3</tspan></text>
<text class="S U" font-size="7.8" transform="translate(257.7 220.5) scale(1.08 1)">10<tspan dx="0.6" dy="-5.2" font-size="6.3">4</tspan></text>
<text class="S U" font-size="8" transform="translate(167.9 214.3) rotate(-90) scale(0.84 1)">10<tspan dx="1.6" dy="-4.2" font-size="7.6">0</tspan></text>
<text class="S U" font-size="8" transform="translate(167.9 199.1) rotate(-90) scale(0.84 1)">10<tspan dx="1.6" dy="-4.2" font-size="7.6">1</tspan></text>
<text class="S U" font-size="8" transform="translate(167.9 184.0) rotate(-90) scale(0.84 1)">10<tspan dx="1.6" dy="-4.2" font-size="7.6">2</tspan></text>
<text class="S U" font-size="8" transform="translate(167.9 168.8) rotate(-90) scale(0.84 1)">10<tspan dx="1.6" dy="-4.2" font-size="7.6">3</tspan></text>
<text class="S U" font-size="8" transform="translate(167.9 153.6) rotate(-90) scale(0.84 1)">10<tspan dx="1.6" dy="-4.2" font-size="7.6">4</tspan></text>
<path d="M303 150h1v1h-1zM339 150h1v1h-1zM348 150h1v1h-1zM357 150h1v1h-1zM296 151h1v1h-1zM338 151h1v1h-1zM296 152h1v1h-1zM376 152h1v1h-1zM312 153h1v1h-1zM312 154h1v1h-1zM314 155h1v1h-1zM312 157h1v1h-1zM350 159h1v1h-1zM300 160h1v1h-1zM327 160h1v1h-1zM337 160h1v1h-1zM296 161h1v1h-1zM312 161h1v1h-1zM324 161h1v1h-1zM342 161h1v1h-1zM295 162h2v1h-2zM316 162h1v1h-1zM320 162h1v1h-1zM323 162h1v1h-1zM338 162h2v1h-2zM341 162h1v1h-1zM343 162h1v1h-1zM349 162h1v1h-1zM301 163h1v1h-1zM307 163h1v1h-1zM321 163h1v1h-1zM330 163h2v1h-2zM333 163h1v1h-1zM337 163h1v1h-1zM340 163h1v1h-1zM343 163h3v1h-3zM352 163h1v1h-1zM295 164h1v1h-1zM297 164h1v1h-1zM299 164h1v1h-1zM302 164h1v1h-1zM307 164h1v1h-1zM317 164h1v1h-1zM320 164h2v1h-2zM323 164h1v1h-1zM325 164h1v1h-1zM327 164h2v1h-2zM330 164h2v1h-2zM333 164h2v1h-2zM337 164h1v1h-1zM339 164h3v1h-3zM344 164h1v1h-1zM347 164h2v1h-2zM351 164h1v1h-1zM359 164h1v1h-1zM296 165h1v1h-1zM299 165h1v1h-1zM301 165h1v1h-1zM303 165h1v1h-1zM305 165h5v1h-5zM315 165h4v1h-4zM320 165h4v1h-4zM325 165h4v1h-4zM330 165h9v1h-9zM341 165h2v1h-2zM344 165h7v1h-7zM353 165h2v1h-2zM360 165h1v1h-1zM295 166h13v1h-13zM309 166h3v1h-3zM313 166h6v1h-6zM320 166h10v1h-10zM331 166h5v1h-5zM337 166h1v1h-1zM340 166h1v1h-1zM342 166h10v1h-10zM353 166h5v1h-5zM362 166h1v1h-1zM295 167h3v1h-3zM300 167h3v1h-3zM305 167h4v1h-4zM310 167h3v1h-3zM315 167h10v1h-10zM326 167h11v1h-11zM340 167h6v1h-6zM347 167h2v1h-2zM350 167h10v1h-10zM296 168h7v1h-7zM304 168h21v1h-21zM326 168h6v1h-6zM333 168h5v1h-5zM340 168h7v1h-7zM349 168h2v1h-2zM352 168h1v1h-1zM354 168h7v1h-7zM379 168h1v1h-1zM296 169h11v1h-11zM308 169h4v1h-4zM313 169h12v1h-12zM326 169h36v1h-36zM296 170h13v1h-13zM310 170h19v1h-19zM331 170h1v1h-1zM333 170h5v1h-5zM339 170h1v1h-1zM342 170h3v1h-3zM346 170h3v1h-3zM350 170h3v1h-3zM354 170h1v1h-1zM356 170h3v1h-3zM361 170h3v1h-3zM296 171h1v1h-1zM298 171h1v1h-1zM300 171h9v1h-9zM310 171h5v1h-5zM316 171h11v1h-11zM328 171h15v1h-15zM345 171h7v1h-7zM353 171h10v1h-10zM364 171h1v1h-1zM296 172h9v1h-9zM306 172h16v1h-16zM323 172h4v1h-4zM329 172h12v1h-12zM342 172h5v1h-5zM348 172h4v1h-4zM353 172h9v1h-9zM295 173h13v1h-13zM309 173h10v1h-10zM320 173h8v1h-8zM329 173h3v1h-3zM333 173h14v1h-14zM348 173h10v1h-10zM360 173h2v1h-2zM363 173h1v1h-1zM366 173h1v1h-1zM295 174h4v1h-4zM300 174h1v1h-1zM302 174h15v1h-15zM318 174h23v1h-23zM342 174h8v1h-8zM352 174h5v1h-5zM358 174h1v1h-1zM360 174h2v1h-2zM363 174h1v1h-1zM365 174h1v1h-1zM374 174h1v1h-1zM296 175h3v1h-3zM300 175h11v1h-11zM312 175h23v1h-23zM336 175h15v1h-15zM353 175h2v1h-2zM356 175h5v1h-5zM296 176h6v1h-6zM303 176h14v1h-14zM318 176h3v1h-3zM322 176h13v1h-13zM336 176h1v1h-1zM338 176h6v1h-6zM345 176h1v1h-1zM347 176h1v1h-1zM350 176h8v1h-8zM359 176h2v1h-2zM363 176h1v1h-1zM365 176h1v1h-1zM296 177h17v1h-17zM314 177h17v1h-17zM332 177h6v1h-6zM342 177h9v1h-9zM352 177h4v1h-4zM357 177h2v1h-2zM360 177h1v1h-1zM381 177h1v1h-1zM296 178h22v1h-22zM319 178h19v1h-19zM339 178h8v1h-8zM348 178h12v1h-12zM361 178h1v1h-1zM295 179h4v1h-4zM300 179h42v1h-42zM343 179h16v1h-16zM360 179h2v1h-2zM364 179h1v1h-1zM366 179h1v1h-1zM295 180h8v1h-8zM304 180h3v1h-3zM308 180h42v1h-42zM351 180h2v1h-2zM356 180h1v1h-1zM358 180h3v1h-3zM362 180h1v1h-1zM296 181h9v1h-9zM306 181h14v1h-14zM321 181h31v1h-31zM353 181h1v1h-1zM356 181h1v1h-1zM358 181h1v1h-1zM296 182h3v1h-3zM301 182h2v1h-2zM304 182h1v1h-1zM306 182h37v1h-37zM344 182h1v1h-1zM347 182h3v1h-3zM351 182h1v1h-1zM356 182h2v1h-2zM359 182h1v1h-1zM362 182h1v1h-1zM296 183h1v1h-1zM298 183h7v1h-7zM306 183h28v1h-28zM336 183h3v1h-3zM340 183h4v1h-4zM345 183h7v1h-7zM361 183h1v1h-1zM296 184h23v1h-23zM320 184h13v1h-13zM334 184h4v1h-4zM340 184h7v1h-7zM348 184h1v1h-1zM353 184h1v1h-1zM295 185h35v1h-35zM331 185h4v1h-4zM336 185h2v1h-2zM339 185h7v1h-7zM349 185h1v1h-1zM356 185h1v1h-1zM295 186h13v1h-13zM309 186h1v1h-1zM311 186h20v1h-20zM335 186h2v1h-2zM340 186h2v1h-2zM343 186h2v1h-2zM348 186h2v1h-2zM354 186h2v1h-2zM295 187h3v1h-3zM299 187h2v1h-2zM302 187h22v1h-22zM325 187h2v1h-2zM328 187h6v1h-6zM339 187h2v1h-2zM342 187h2v1h-2zM346 187h1v1h-1zM348 187h2v1h-2zM295 188h31v1h-31zM327 188h1v1h-1zM331 188h1v1h-1zM340 188h4v1h-4zM345 188h1v1h-1zM351 188h1v1h-1zM353 188h1v1h-1zM296 189h2v1h-2zM299 189h11v1h-11zM311 189h11v1h-11zM323 189h2v1h-2zM327 189h2v1h-2zM334 189h1v1h-1zM337 189h2v1h-2zM340 189h2v1h-2zM347 189h1v1h-1zM350 189h1v1h-1zM352 189h1v1h-1zM356 189h1v1h-1zM372 189h1v1h-1zM375 189h1v1h-1zM296 190h5v1h-5zM302 190h7v1h-7zM310 190h4v1h-4zM316 190h4v1h-4zM321 190h4v1h-4zM332 190h1v1h-1zM335 190h1v1h-1zM341 190h3v1h-3zM347 190h2v1h-2zM351 190h1v1h-1zM373 190h1v1h-1zM298 191h10v1h-10zM309 191h10v1h-10zM320 191h4v1h-4zM337 191h3v1h-3zM342 191h1v1h-1zM347 191h3v1h-3zM351 191h1v1h-1zM355 191h1v1h-1zM357 191h2v1h-2zM367 191h1v1h-1zM369 191h1v1h-1zM296 192h1v1h-1zM298 192h5v1h-5zM304 192h3v1h-3zM308 192h4v1h-4zM313 192h10v1h-10zM324 192h2v1h-2zM337 192h1v1h-1zM340 192h1v1h-1zM342 192h1v1h-1zM344 192h3v1h-3zM355 192h1v1h-1zM377 192h1v1h-1zM300 193h10v1h-10zM311 193h10v1h-10zM322 193h1v1h-1zM330 193h1v1h-1zM339 193h1v1h-1zM344 193h1v1h-1zM360 193h1v1h-1zM295 194h1v1h-1zM297 194h1v1h-1zM299 194h1v1h-1zM301 194h8v1h-8zM311 194h2v1h-2zM314 194h4v1h-4zM319 194h1v1h-1zM321 194h1v1h-1zM323 194h1v1h-1zM338 194h1v1h-1zM340 194h2v1h-2zM343 194h1v1h-1zM349 194h1v1h-1zM352 194h1v1h-1zM354 194h1v1h-1zM358 194h1v1h-1zM364 194h1v1h-1zM369 194h1v1h-1zM297 195h1v1h-1zM300 195h1v1h-1zM302 195h2v1h-2zM305 195h5v1h-5zM311 195h2v1h-2zM314 195h3v1h-3zM334 195h1v1h-1zM343 195h1v1h-1zM346 195h1v1h-1zM352 195h1v1h-1zM356 195h1v1h-1zM365 195h1v1h-1zM296 196h1v1h-1zM301 196h2v1h-2zM304 196h3v1h-3zM308 196h3v1h-3zM312 196h3v1h-3zM316 196h1v1h-1zM318 196h2v1h-2zM321 196h1v1h-1zM327 196h1v1h-1zM349 196h1v1h-1zM351 196h1v1h-1zM357 196h1v1h-1zM305 197h2v1h-2zM308 197h1v1h-1zM310 197h3v1h-3zM344 197h2v1h-2zM357 197h2v1h-2zM362 197h1v1h-1zM364 197h1v1h-1zM303 198h2v1h-2zM307 198h2v1h-2zM312 198h1v1h-1zM314 198h1v1h-1zM316 198h2v1h-2zM353 198h1v1h-1zM359 198h2v1h-2zM312 199h1v1h-1zM314 199h1v1h-1zM345 199h1v1h-1zM348 199h1v1h-1zM352 199h3v1h-3zM361 199h1v1h-1zM363 199h1v1h-1zM367 199h1v1h-1zM374 199h2v1h-2zM330 200h1v1h-1zM334 200h1v1h-1zM349 200h1v1h-1zM353 200h1v1h-1zM357 200h1v1h-1zM359 200h1v1h-1zM361 200h1v1h-1zM364 200h2v1h-2zM368 200h1v1h-1zM296 201h1v1h-1zM318 201h1v1h-1zM330 201h1v1h-1zM341 201h1v1h-1zM347 201h1v1h-1zM352 201h1v1h-1zM357 201h3v1h-3zM363 201h1v1h-1zM366 201h1v1h-1zM370 201h1v1h-1zM380 201h1v1h-1zM296 202h1v1h-1zM301 202h1v1h-1zM304 202h1v1h-1zM348 202h1v1h-1zM350 202h1v1h-1zM357 202h1v1h-1zM366 202h1v1h-1zM375 202h2v1h-2zM323 203h1v1h-1zM357 203h1v1h-1zM366 203h1v1h-1zM374 203h1v1h-1zM377 203h2v1h-2zM306 204h1v1h-1zM350 205h1v1h-1zM352 205h1v1h-1zM354 205h1v1h-1zM357 205h1v1h-1zM377 205h1v1h-1z" fill="#000"/>
<path d="M295.6 145.2H386V206.2H295.6Z" fill="none" stroke="#111" stroke-width="1.1"/>
<line x1="329.5" y1="145.2" x2="329.5" y2="206.2" stroke="#111" stroke-width="1.2"/>
<line x1="295.6" y1="183.2" x2="386" y2="183.2" stroke="#111" stroke-width="1.2"/>
<path d="M295.6 206.2v4.0M295.6 206.2h-4.0M302.4 206.2v2.3M295.6 201.6h-2.3M306.4 206.2v2.3M295.6 198.9h-2.3M309.2 206.2v2.3M295.6 197.0h-2.3M311.4 206.2v2.3M295.6 195.5h-2.3M313.2 206.2v2.3M295.6 194.3h-2.3M314.7 206.2v2.3M295.6 193.3h-2.3M316.0 206.2v2.3M295.6 192.4h-2.3M317.2 206.2v2.3M295.6 191.6h-2.3M318.2 206.2v4.0M295.6 190.9h-4.0M325.0 206.2v2.3M295.6 186.4h-2.3M329.0 206.2v2.3M295.6 183.7h-2.3M331.8 206.2v2.3M295.6 181.8h-2.3M334.0 206.2v2.3M295.6 180.3h-2.3M335.8 206.2v2.3M295.6 179.1h-2.3M337.3 206.2v2.3M295.6 178.1h-2.3M338.6 206.2v2.3M295.6 177.2h-2.3M339.8 206.2v2.3M295.6 176.4h-2.3M340.8 206.2v4.0M295.6 175.7h-4.0M347.6 206.2v2.3M295.6 171.1h-2.3M351.6 206.2v2.3M295.6 168.4h-2.3M354.4 206.2v2.3M295.6 166.5h-2.3M356.6 206.2v2.3M295.6 165.0h-2.3M358.4 206.2v2.3M295.6 163.8h-2.3M359.9 206.2v2.3M295.6 162.8h-2.3M361.2 206.2v2.3M295.6 161.9h-2.3M362.4 206.2v2.3M295.6 161.1h-2.3M363.4 206.2v4.0M295.6 160.4h-4.0M370.2 206.2v2.3M295.6 155.9h-2.3M374.2 206.2v2.3M295.6 153.2h-2.3M377.0 206.2v2.3M295.6 151.3h-2.3M379.2 206.2v2.3M295.6 149.8h-2.3M381.0 206.2v2.3M295.6 148.6h-2.3M382.5 206.2v2.3M295.6 147.6h-2.3M383.8 206.2v2.3M295.6 146.7h-2.3M385.0 206.2v2.3M295.6 145.9h-2.3M386 206.2v4M295.6 145.2h-4" stroke="#000" stroke-width="1.1" fill="none"/>
<text class="S U" font-size="7.8" transform="translate(290.9 218.8) scale(1.08 1)">10<tspan dx="0.6" dy="-5.2" font-size="6.3">0</tspan></text>
<text class="S U" font-size="7.8" transform="translate(312.9 218.8) scale(1.08 1)">10<tspan dx="0.6" dy="-5.2" font-size="6.3">1</tspan></text>
<text class="S U" font-size="7.8" transform="translate(334.8 218.8) scale(1.08 1)">10<tspan dx="0.6" dy="-5.2" font-size="6.3">2</tspan></text>
<text class="S U" font-size="7.8" transform="translate(356.8 218.8) scale(1.08 1)">10<tspan dx="0.6" dy="-5.2" font-size="6.3">3</tspan></text>
<text class="S U" font-size="7.8" transform="translate(378.7 218.8) scale(1.08 1)">10<tspan dx="0.6" dy="-5.2" font-size="6.3">4</tspan></text>
<text class="S U" font-size="8" transform="translate(288.9 212.6) rotate(-90) scale(0.84 1)">10<tspan dx="1.6" dy="-4.2" font-size="7.6">0</tspan></text>
<text class="S U" font-size="8" transform="translate(288.9 197.3) rotate(-90) scale(0.84 1)">10<tspan dx="1.6" dy="-4.2" font-size="7.6">1</tspan></text>
<text class="S U" font-size="8" transform="translate(288.9 182.1) rotate(-90) scale(0.84 1)">10<tspan dx="1.6" dy="-4.2" font-size="7.6">2</tspan></text>
<text class="S U" font-size="8" transform="translate(288.9 166.8) rotate(-90) scale(0.84 1)">10<tspan dx="1.6" dy="-4.2" font-size="7.6">3</tspan></text>
<text class="S U" font-size="8" transform="translate(288.9 151.6) rotate(-90) scale(0.84 1)">10<tspan dx="1.6" dy="-4.2" font-size="7.6">4</tspan></text>
<path d="M481 150h1v1h-1zM490 150h1v1h-1zM459 157h1v1h-1zM491 157h1v1h-1zM458 165h1v1h-1zM424 167h1v1h-1zM436 173h1v1h-1zM478 173h1v1h-1zM418 174h1v1h-1zM442 174h1v1h-1zM456 174h1v1h-1zM466 174h1v1h-1zM469 174h1v1h-1zM442 175h1v1h-1zM459 175h1v1h-1zM467 175h1v1h-1zM457 176h1v1h-1zM475 176h1v1h-1zM479 176h1v1h-1zM437 177h1v1h-1zM441 177h2v1h-2zM461 177h1v1h-1zM463 177h1v1h-1zM467 177h1v1h-1zM471 177h1v1h-1zM482 177h1v1h-1zM488 177h1v1h-1zM495 177h1v1h-1zM443 178h1v1h-1zM454 178h1v1h-1zM462 178h1v1h-1zM465 178h1v1h-1zM474 178h1v1h-1zM477 178h1v1h-1zM479 178h1v1h-1zM488 178h1v1h-1zM492 178h1v1h-1zM413 179h1v1h-1zM437 179h1v1h-1zM439 179h1v1h-1zM442 179h1v1h-1zM448 179h3v1h-3zM455 179h2v1h-2zM459 179h3v1h-3zM478 179h1v1h-1zM417 180h1v1h-1zM431 180h1v1h-1zM437 180h1v1h-1zM441 180h4v1h-4zM446 180h5v1h-5zM453 180h2v1h-2zM462 180h1v1h-1zM482 180h1v1h-1zM491 180h1v1h-1zM438 181h3v1h-3zM442 181h9v1h-9zM452 181h2v1h-2zM459 181h1v1h-1zM428 182h1v1h-1zM432 182h2v1h-2zM436 182h21v1h-21zM466 182h1v1h-1zM468 182h1v1h-1zM470 182h1v1h-1zM472 182h1v1h-1zM429 183h4v1h-4zM434 183h5v1h-5zM440 183h11v1h-11zM452 183h7v1h-7zM461 183h1v1h-1zM472 183h1v1h-1zM432 184h6v1h-6zM439 184h11v1h-11zM451 184h3v1h-3zM455 184h1v1h-1zM457 184h1v1h-1zM459 184h3v1h-3zM464 184h1v1h-1zM466 184h1v1h-1zM473 184h1v1h-1zM428 185h1v1h-1zM430 185h33v1h-33zM420 186h1v1h-1zM426 186h12v1h-12zM439 186h22v1h-22zM462 186h2v1h-2zM465 186h1v1h-1zM421 187h1v1h-1zM425 187h29v1h-29zM455 187h10v1h-10zM466 187h2v1h-2zM472 187h1v1h-1zM474 187h1v1h-1zM415 188h1v1h-1zM425 188h29v1h-29zM455 188h3v1h-3zM459 188h5v1h-5zM466 188h1v1h-1zM468 188h2v1h-2zM471 188h1v1h-1zM481 188h1v1h-1zM421 189h2v1h-2zM424 189h27v1h-27zM452 189h5v1h-5zM458 189h9v1h-9zM468 189h4v1h-4zM477 189h1v1h-1zM418 190h1v1h-1zM420 190h1v1h-1zM422 190h3v1h-3zM426 190h28v1h-28zM455 190h8v1h-8zM464 190h9v1h-9zM481 190h1v1h-1zM488 190h1v1h-1zM419 191h2v1h-2zM422 191h30v1h-30zM453 191h7v1h-7zM461 191h2v1h-2zM464 191h6v1h-6zM471 191h1v1h-1zM474 191h3v1h-3zM419 192h46v1h-46zM466 192h5v1h-5zM473 192h1v1h-1zM478 192h1v1h-1zM486 192h1v1h-1zM417 193h7v1h-7zM425 193h6v1h-6zM432 193h27v1h-27zM461 193h6v1h-6zM469 193h1v1h-1zM473 193h1v1h-1zM475 193h2v1h-2zM478 193h1v1h-1zM480 193h1v1h-1zM414 194h2v1h-2zM419 194h2v1h-2zM422 194h31v1h-31zM454 194h2v1h-2zM457 194h1v1h-1zM459 194h1v1h-1zM461 194h6v1h-6zM468 194h2v1h-2zM474 194h3v1h-3zM478 194h4v1h-4zM489 194h1v1h-1zM493 194h1v1h-1zM414 195h1v1h-1zM417 195h2v1h-2zM421 195h4v1h-4zM426 195h26v1h-26zM453 195h1v1h-1zM455 195h6v1h-6zM462 195h10v1h-10zM473 195h1v1h-1zM475 195h2v1h-2zM479 195h1v1h-1zM481 195h1v1h-1zM483 195h1v1h-1zM416 196h7v1h-7zM424 196h3v1h-3zM428 196h22v1h-22zM451 196h9v1h-9zM461 196h1v1h-1zM464 196h4v1h-4zM470 196h1v1h-1zM473 196h2v1h-2zM479 196h2v1h-2zM483 196h2v1h-2zM415 197h1v1h-1zM417 197h31v1h-31zM449 197h10v1h-10zM460 197h2v1h-2zM463 197h1v1h-1zM465 197h1v1h-1zM467 197h1v1h-1zM469 197h1v1h-1zM481 197h1v1h-1zM483 197h7v1h-7zM416 198h7v1h-7zM424 198h4v1h-4zM429 198h20v1h-20zM450 198h8v1h-8zM459 198h2v1h-2zM463 198h1v1h-1zM467 198h1v1h-1zM469 198h3v1h-3zM474 198h7v1h-7zM482 198h3v1h-3zM486 198h2v1h-2zM490 198h1v1h-1zM494 198h2v1h-2zM414 199h14v1h-14zM429 199h18v1h-18zM448 199h10v1h-10zM461 199h1v1h-1zM464 199h1v1h-1zM466 199h1v1h-1zM468 199h2v1h-2zM471 199h1v1h-1zM476 199h5v1h-5zM483 199h6v1h-6zM494 199h1v1h-1zM414 200h10v1h-10zM425 200h2v1h-2zM429 200h1v1h-1zM433 200h2v1h-2zM437 200h2v1h-2zM440 200h1v1h-1zM445 200h3v1h-3zM449 200h1v1h-1zM451 200h1v1h-1zM453 200h1v1h-1zM455 200h1v1h-1zM458 200h3v1h-3zM462 200h1v1h-1zM464 200h5v1h-5zM470 200h1v1h-1zM473 200h2v1h-2zM476 200h1v1h-1zM479 200h4v1h-4zM484 200h1v1h-1zM486 200h1v1h-1zM488 200h2v1h-2zM414 201h2v1h-2zM417 201h11v1h-11zM429 201h6v1h-6zM437 201h7v1h-7zM446 201h6v1h-6zM454 201h3v1h-3zM458 201h1v1h-1zM460 201h1v1h-1zM462 201h2v1h-2zM465 201h1v1h-1zM467 201h1v1h-1zM469 201h1v1h-1zM474 201h3v1h-3zM478 201h1v1h-1zM480 201h1v1h-1zM482 201h3v1h-3zM486 201h3v1h-3zM490 201h1v1h-1zM492 201h1v1h-1zM413 202h3v1h-3zM417 202h5v1h-5zM423 202h2v1h-2zM426 202h1v1h-1zM433 202h3v1h-3zM437 202h2v1h-2zM440 202h1v1h-1zM442 202h2v1h-2zM445 202h2v1h-2zM449 202h3v1h-3zM453 202h2v1h-2zM456 202h1v1h-1zM459 202h2v1h-2zM462 202h1v1h-1zM464 202h1v1h-1zM466 202h2v1h-2zM469 202h2v1h-2zM472 202h1v1h-1zM474 202h9v1h-9zM485 202h2v1h-2zM488 202h3v1h-3zM499 202h1v1h-1zM413 203h8v1h-8zM422 203h3v1h-3zM426 203h7v1h-7zM434 203h1v1h-1zM436 203h1v1h-1zM441 203h5v1h-5zM448 203h1v1h-1zM452 203h1v1h-1zM454 203h3v1h-3zM458 203h3v1h-3zM462 203h1v1h-1zM464 203h1v1h-1zM466 203h10v1h-10zM478 203h1v1h-1zM481 203h3v1h-3zM485 203h3v1h-3zM489 203h1v1h-1zM415 204h4v1h-4zM422 204h6v1h-6zM430 204h3v1h-3zM434 204h3v1h-3zM438 204h9v1h-9zM449 204h13v1h-13zM464 204h2v1h-2zM467 204h6v1h-6zM475 204h2v1h-2zM478 204h1v1h-1zM480 204h3v1h-3zM484 204h4v1h-4zM489 204h1v1h-1zM492 204h1v1h-1zM494 204h1v1h-1zM415 205h10v1h-10zM426 205h11v1h-11zM438 205h2v1h-2zM441 205h2v1h-2zM444 205h15v1h-15zM460 205h1v1h-1zM462 205h8v1h-8zM471 205h4v1h-4zM476 205h1v1h-1zM478 205h3v1h-3zM482 205h1v1h-1zM484 205h3v1h-3zM488 205h3v1h-3zM493 205h1v1h-1zM495 205h1v1h-1z" fill="#000"/>
<path d="M413.6 145.2H504.2V205.6H413.6Z" fill="none" stroke="#111" stroke-width="1.1"/>
<line x1="447.3" y1="145.2" x2="447.3" y2="205.6" stroke="#111" stroke-width="1.2"/>
<line x1="413.6" y1="182.8" x2="504.2" y2="182.8" stroke="#111" stroke-width="1.2"/>
<path d="M413.6 205.6v4.0M413.6 205.6h-4.0M420.4 205.6v2.3M413.6 201.1h-2.3M424.4 205.6v2.3M413.6 198.4h-2.3M427.2 205.6v2.3M413.6 196.5h-2.3M429.4 205.6v2.3M413.6 195.0h-2.3M431.2 205.6v2.3M413.6 193.8h-2.3M432.7 205.6v2.3M413.6 192.8h-2.3M434.1 205.6v2.3M413.6 192.0h-2.3M435.2 205.6v2.3M413.6 191.2h-2.3M436.2 205.6v4.0M413.6 190.5h-4.0M443.1 205.6v2.3M413.6 186.0h-2.3M447.1 205.6v2.3M413.6 183.3h-2.3M449.9 205.6v2.3M413.6 181.4h-2.3M452.1 205.6v2.3M413.6 179.9h-2.3M453.9 205.6v2.3M413.6 178.7h-2.3M455.4 205.6v2.3M413.6 177.7h-2.3M456.7 205.6v2.3M413.6 176.9h-2.3M457.9 205.6v2.3M413.6 176.1h-2.3M458.9 205.6v4.0M413.6 175.4h-4.0M465.7 205.6v2.3M413.6 170.9h-2.3M469.7 205.6v2.3M413.6 168.2h-2.3M472.5 205.6v2.3M413.6 166.3h-2.3M474.7 205.6v2.3M413.6 164.8h-2.3M476.5 205.6v2.3M413.6 163.6h-2.3M478.0 205.6v2.3M413.6 162.6h-2.3M479.4 205.6v2.3M413.6 161.8h-2.3M480.5 205.6v2.3M413.6 161.0h-2.3M481.6 205.6v4.0M413.6 160.3h-4.0M488.4 205.6v2.3M413.6 155.8h-2.3M492.4 205.6v2.3M413.6 153.1h-2.3M495.2 205.6v2.3M413.6 151.2h-2.3M497.4 205.6v2.3M413.6 149.7h-2.3M499.2 205.6v2.3M413.6 148.5h-2.3M500.7 205.6v2.3M413.6 147.5h-2.3M502.0 205.6v2.3M413.6 146.7h-2.3M503.2 205.6v2.3M413.6 145.9h-2.3M504.2 205.6v4M413.6 145.2h-4" stroke="#000" stroke-width="1.1" fill="none"/>
<text class="S U" font-size="7.8" transform="translate(408.9 218.2) scale(1.08 1)">10<tspan dx="0.6" dy="-5.2" font-size="6.3">0</tspan></text>
<text class="S U" font-size="7.8" transform="translate(430.9 218.2) scale(1.08 1)">10<tspan dx="0.6" dy="-5.2" font-size="6.3">1</tspan></text>
<text class="S U" font-size="7.8" transform="translate(452.8 218.2) scale(1.08 1)">10<tspan dx="0.6" dy="-5.2" font-size="6.3">2</tspan></text>
<text class="S U" font-size="7.8" transform="translate(474.8 218.2) scale(1.08 1)">10<tspan dx="0.6" dy="-5.2" font-size="6.3">3</tspan></text>
<text class="S U" font-size="7.8" transform="translate(496.7 218.2) scale(1.08 1)">10<tspan dx="0.6" dy="-5.2" font-size="6.3">4</tspan></text>
<text class="S U" font-size="8" transform="translate(406.9 212.0) rotate(-90) scale(0.84 1)">10<tspan dx="1.6" dy="-4.2" font-size="7.6">0</tspan></text>
<text class="S U" font-size="8" transform="translate(406.9 196.9) rotate(-90) scale(0.84 1)">10<tspan dx="1.6" dy="-4.2" font-size="7.6">1</tspan></text>
<text class="S U" font-size="8" transform="translate(406.9 181.8) rotate(-90) scale(0.84 1)">10<tspan dx="1.6" dy="-4.2" font-size="7.6">2</tspan></text>
<text class="S U" font-size="8" transform="translate(406.9 166.7) rotate(-90) scale(0.84 1)">10<tspan dx="1.6" dy="-4.2" font-size="7.6">3</tspan></text>
<text class="S U" font-size="8" transform="translate(406.9 151.6) rotate(-90) scale(0.84 1)">10<tspan dx="1.6" dy="-4.2" font-size="7.6">4</tspan></text>
<text class="S T" font-size="9.0" font-weight="bold" transform="translate(64.81 161.05) scale(0.977 1)">96.5%</text>
<text class="S T" font-size="9.0" font-weight="bold" transform="translate(125.73 165.25) scale(1.007 1)">1.7%</text>
<text class="S T" font-size="9.0" font-weight="bold" transform="translate(180.45 162.25) scale(1.013 1)">85.5%</text>
<text class="S T" font-size="9.0" font-weight="bold" transform="translate(246.24 162.45) scale(0.992 1)">10%</text>
<text class="S T" font-size="9.0" font-weight="bold" transform="translate(305.42 162.25) scale(1.022 1)">76%</text>
<text class="S T" font-size="9.0" font-weight="bold" transform="translate(365.52 161.95) scale(1.017 1)">13%</text>
<text class="S T" font-size="9.0" font-weight="bold" transform="translate(370.60 200.55) scale(1.048 1)">3%</text>
<text class="S T" font-size="9.0" font-weight="bold" transform="translate(425.00 162.25) scale(1.028 1)">0.5%</text>
<text class="S T" font-size="9.0" font-weight="bold" transform="translate(479.70 161.95) scale(1.044 1)">0.7%</text>
<text class="S T" font-size="9.0" font-weight="bold" transform="translate(490.18 200.55) scale(1.072 1)">17%</text>
<path d="M65 238.1L56.3 242.1L65 246.7Z M493 237.3L501.7 241.5L493 245.8Z" fill="#000" stroke="#000" stroke-width="0.8"/>
<path d="M63 242.1H233.5 M316 241.6H494" stroke="#000" stroke-width="1.5"/>
<text class="S" font-size="12.2" font-weight="bold" transform="translate(247.38 245.65) scale(1.103 1)">CD41-FITC</text>
<text class="S" font-size="13.2" font-weight="bold" transform="translate(36.35 197.24) rotate(-90) scale(1.045 1)">CD34-PE</text>
<text class="A" font-size="18.5" font-weight="bold" transform="translate(0.67 298.63) scale(0.962 1)">B</text>
<line x1="53.5" y1="289.8" x2="53.5" y2="399.3" stroke="#777" stroke-width="1"/>
<line x1="53.5" y1="397.3" x2="255.5" y2="397.3" stroke="#777" stroke-width="1"/>
<line x1="50.8" y1="397.3" x2="53.5" y2="397.3" stroke="#777" stroke-width="1"/>
<text class="A" x="47.3" y="401.8" font-size="9.8" text-anchor="end">0</text>
<line x1="50.8" y1="381.94" x2="53.5" y2="381.94" stroke="#777" stroke-width="1"/>
<text class="A" x="47.3" y="386.44" font-size="9.8" text-anchor="end">2</text>
<line x1="50.8" y1="366.58000000000004" x2="53.5" y2="366.58000000000004" stroke="#777" stroke-width="1"/>
<text class="A" x="47.3" y="371.08000000000004" font-size="9.8" text-anchor="end">4</text>
<line x1="50.8" y1="351.22" x2="53.5" y2="351.22" stroke="#777" stroke-width="1"/>
<text class="A" x="47.3" y="355.72" font-size="9.8" text-anchor="end">6</text>
<line x1="50.8" y1="335.86" x2="53.5" y2="335.86" stroke="#777" stroke-width="1"/>
<text class="A" x="47.3" y="340.36" font-size="9.8" text-anchor="end">8</text>
<line x1="50.8" y1="320.5" x2="53.5" y2="320.5" stroke="#777" stroke-width="1"/>
<text class="A" x="47.3" y="325.0" font-size="9.8" text-anchor="end">10</text>
<line x1="50.8" y1="305.14" x2="53.5" y2="305.14" stroke="#777" stroke-width="1"/>
<text class="A" x="47.3" y="309.64" font-size="9.8" text-anchor="end">12</text>
<line x1="50.8" y1="289.78000000000003" x2="53.5" y2="289.78000000000003" stroke="#777" stroke-width="1"/>
<text class="A" x="47.3" y="294.28000000000003" font-size="9.8" text-anchor="end">14</text>
<line x1="118.4" y1="397.3" x2="118.4" y2="399.3" stroke="#777" stroke-width="1"/>
<line x1="184.5" y1="397.3" x2="184.5" y2="399.3" stroke="#777" stroke-width="1"/>
<line x1="255.5" y1="397.3" x2="255.5" y2="399.3" stroke="#777" stroke-width="1"/>
<defs>
<pattern id="hatch" width="4" height="4" patternUnits="userSpaceOnUse" patternTransform="rotate(45)"><rect width="2" height="4" fill="#000"/></pattern>
<pattern id="vstripe" x="1" width="3" height="4" patternUnits="userSpaceOnUse"><rect width="1.25" height="4" fill="#000"/></pattern>
<pattern id="vstripeL" width="3" height="4" patternUnits="userSpaceOnUse"><rect width="1.5" height="4" fill="#000"/></pattern>
<pattern id="dots" width="5" height="5" patternUnits="userSpaceOnUse"><rect x="1" y="1" width="0.9" height="0.9" fill="#555"/><rect x="3.5" y="3.5" width="0.9" height="0.9" fill="#555"/></pattern>
<pattern id="hstripe" width="4" height="3" patternUnits="userSpaceOnUse"><rect width="4" height="1" fill="#000"/></pattern>
<pattern id="dots2" width="4" height="4" patternUnits="userSpaceOnUse"><rect x="1" y="1" width="0.8" height="0.8" fill="#666"/></pattern>
</defs>
<rect x="62.2" y="391.92" width="12.1" height="5.38" fill="#000" stroke="#000" stroke-width="0.9"/>
<rect x="86.2" y="392.69" width="12.1" height="4.61" fill="url(#vstripe)" stroke="#000" stroke-width="0.9"/>
<rect x="98.3" y="386.93" width="12.1" height="10.37" fill="url(#dots)" stroke="#000" stroke-width="0.9"/>
<rect x="126.9" y="341.62" width="12.1" height="55.68" fill="#000" stroke="#000" stroke-width="0.9"/>
<rect x="139.0" y="359.21" width="12.1" height="38.09" fill="url(#hatch)" stroke="#000" stroke-width="0.9"/>
<rect x="151.1" y="289.78" width="12.1" height="107.52" fill="url(#vstripe)" stroke="#000" stroke-width="0.9"/>
<rect x="163.2" y="337.01" width="12.1" height="60.29" fill="url(#dots)" stroke="#000" stroke-width="0.9"/>
<rect x="192.6" y="344.69" width="12.1" height="52.61" fill="#000" stroke="#000" stroke-width="0.9"/>
<rect x="216.8" y="382.71" width="12.1" height="14.59" fill="url(#vstripe)" stroke="#000" stroke-width="0.9"/>
<text class="A" font-size="9.3" transform="translate(73.02 413.73) scale(0.972 1)">Week 2</text>
<text class="A" font-size="9.3" transform="translate(138.02 413.73) scale(0.970 1)">Week 3</text>
<text class="A" font-size="9.3" transform="translate(203.03 413.43) scale(0.962 1)">Week 4</text>
<text class="A" font-size="10.1" font-weight="bold" transform="translate(107.64 423.08) scale(1.012 1)">Week posttransplant</text>
<text class="A" font-size="10.5" font-weight="bold" transform="translate(29.93 387.78) rotate(-90) scale(0.959 1)">% Human CD41a</text>
<rect x="118.8" y="427.6" width="73.4" height="47" fill="#fff" stroke="#666" stroke-width="1"/>
<rect x="123.6" y="432.6" width="7.2" height="3.2" fill="#000" stroke="#000" stroke-width="0.9"/>
<text class="A" font-size="8.6" transform="translate(135.13 437.33) scale(1.044 1)">Mouse 1</text>
<rect x="123.6" y="444.6" width="7.2" height="3.2" fill="url(#hatch)" stroke="#000" stroke-width="0.9"/>
<text class="A" font-size="8.6" transform="translate(135.13 449.33) scale(1.045 1)">Mouse 2</text>
<rect x="123.6" y="456.6" width="7.2" height="3.2" fill="url(#vstripe)" stroke="#000" stroke-width="0.9"/>
<text class="A" font-size="8.6" transform="translate(135.13 461.33) scale(1.042 1)">Mouse 3</text>
<rect x="123.6" y="467.8" width="7.2" height="3.2" fill="#fff" stroke="#000" stroke-width="0.9"/>
<text class="A" font-size="8.6" transform="translate(135.13 472.53) scale(1.038 1)">Mouse 4</text>
<text class="A" font-size="18.5" font-weight="bold" transform="translate(245.29 300.23) scale(0.921 1)">C</text>
<line x1="297.3" y1="291" x2="297.3" y2="398.2" stroke="#777" stroke-width="1"/>
<line x1="297.3" y1="396.4" x2="518.5" y2="396.4" stroke="#777" stroke-width="1"/>
<line x1="294.6" y1="396.4" x2="297.3" y2="396.4" stroke="#777" stroke-width="1"/>
<text class="A" x="290.7" y="400.79999999999995" font-size="9.4" text-anchor="end">0</text>
<line x1="294.6" y1="382.29999999999995" x2="297.3" y2="382.29999999999995" stroke="#777" stroke-width="1"/>
<text class="A" x="290.7" y="386.69999999999993" font-size="9.4" text-anchor="end">0.2</text>
<line x1="294.6" y1="368.2" x2="297.3" y2="368.2" stroke="#777" stroke-width="1"/>
<text class="A" x="290.7" y="372.59999999999997" font-size="9.4" text-anchor="end">0.4</text>
<line x1="294.6" y1="354.09999999999997" x2="297.3" y2="354.09999999999997" stroke="#777" stroke-width="1"/>
<text class="A" x="290.7" y="358.49999999999994" font-size="9.4" text-anchor="end">0.6</text>
<line x1="294.6" y1="340.0" x2="297.3" y2="340.0" stroke="#777" stroke-width="1"/>
<text class="A" x="290.7" y="344.4" font-size="9.4" text-anchor="end">0.8</text>
<line x1="294.6" y1="325.9" x2="297.3" y2="325.9" stroke="#777" stroke-width="1"/>
<text class="A" x="290.7" y="330.29999999999995" font-size="9.4" text-anchor="end">1</text>
<line x1="294.6" y1="311.79999999999995" x2="297.3" y2="311.79999999999995" stroke="#777" stroke-width="1"/>
<text class="A" x="290.7" y="316.19999999999993" font-size="9.4" text-anchor="end">1.2</text>
<line x1="294.6" y1="297.7" x2="297.3" y2="297.7" stroke="#777" stroke-width="1"/>
<text class="A" x="290.7" y="302.09999999999997" font-size="9.4" text-anchor="end">1.4</text>
<line x1="370.6" y1="396.4" x2="370.6" y2="398.4" stroke="#777" stroke-width="1"/>
<line x1="444.2" y1="396.4" x2="444.2" y2="398.4" stroke="#777" stroke-width="1"/>
<line x1="518.5" y1="396.4" x2="518.5" y2="398.4" stroke="#777" stroke-width="1"/>
<rect x="373.8" y="311.80" width="5.72" height="84.60" fill="#000" stroke="#000" stroke-width="0.9"/>
<rect x="379.52000000000004" y="325.90" width="5.72" height="70.50" fill="#000" stroke="#000" stroke-width="0.9"/>
<rect x="385.24" y="290.65" width="5.72" height="105.75" fill="#000" stroke="#000" stroke-width="0.9"/>
<rect x="390.96000000000004" y="344.23" width="5.72" height="52.17" fill="url(#dots2)" stroke="#000" stroke-width="0.9"/>
<rect x="396.68" y="369.61" width="5.72" height="26.79" fill="url(#dots2)" stroke="#000" stroke-width="0.9"/>
<rect x="402.40000000000003" y="374.54" width="5.72" height="21.86" fill="url(#dots2)" stroke="#000" stroke-width="0.9"/>
<rect x="408.12" y="360.44" width="5.72" height="35.95" fill="url(#hstripe)" stroke="#000" stroke-width="0.9"/>
<rect x="413.84000000000003" y="311.80" width="5.72" height="84.60" fill="url(#hstripe)" stroke="#000" stroke-width="0.9"/>
<rect x="419.56" y="325.90" width="5.72" height="70.50" fill="url(#hstripe)" stroke="#000" stroke-width="0.9"/>
<text class="A" font-size="8.8" transform="translate(320.32 412.33) scale(1.044 1)">Week 2</text>
<text class="A" font-size="8.8" transform="translate(394.32 412.13) scale(1.028 1)">Week 3</text>
<text class="A" font-size="8.8" transform="translate(467.92 411.93) scale(1.023 1)">Week 4</text>
<text class="A" font-size="10.0" font-weight="bold" transform="translate(362.14 422.83) scale(1.027 1)">Week posttransplant</text>
<text class="A" font-size="10.5" font-weight="bold" transform="translate(270.43 387.58) rotate(-90) scale(0.964 1)">% Human CD41a</text>
<rect x="355.4" y="428" width="128.6" height="43.4" fill="#fff" stroke="#666" stroke-width="1"/>
<rect x="358.9" y="431.9" width="5.4" height="4.2" fill="#000" stroke="#000" stroke-width="0.9"/>
<text class="A" font-size="8.7" transform="translate(365.80 436.65) scale(1.059 1)">PBSC expanded for 1 day</text>
<rect x="358.9" y="442.0" width="5.4" height="4.2" fill="#fff" stroke="#000" stroke-width="0.9"/>
<text class="A" font-size="8.7" transform="translate(365.80 446.75) scale(1.059 1)">PBSC expanded for 3 days</text>
<rect x="358.9" y="452.4" width="5.4" height="4.2" fill="#fff" stroke="#000" stroke-width="0.9"/>
<line x1="358.9" y1="454.5" x2="364.3" y2="454.5" stroke="#000" stroke-width="0.9"/>
<text class="A" font-size="8.7" transform="translate(365.80 457.15) scale(1.059 1)">PBSC expanded for 4 days</text>
<rect x="358.9" y="462.3" width="5.4" height="4.2" fill="#fff" stroke="#000" stroke-width="0.9"/>
<text class="A" font-size="8.7" transform="translate(365.80 467.05) scale(1.059 1)">PBSC expanded for 8 days</text>
</g>
</svg>
</body></html>
